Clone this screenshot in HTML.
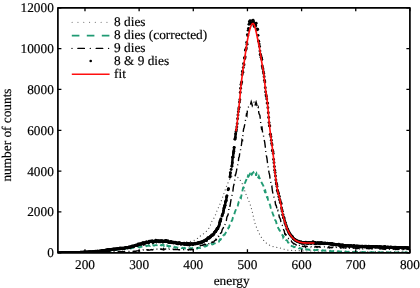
<!DOCTYPE html>
<html><head><meta charset="utf-8"><style>
html,body{margin:0;padding:0;background:#fff;}
body{width:420px;height:288px;overflow:hidden;}
svg{display:block;text-rendering:geometricPrecision;will-change:transform;font-family:"Liberation Serif",serif;font-size:13.3px;}
</style></head><body>
<svg width="420" height="288" viewBox="0 0 420 288">
<defs><clipPath id="c"><rect x="57.90" y="7.80" width="352.00" height="245.00"/></clipPath></defs>
<g clip-path="url(#c)">
<path d="M57.90,252.19 L58.44,252.19 L58.98,252.19 L59.52,252.18 L60.07,252.18 L60.61,252.18 L61.15,252.18 L61.69,252.17 L62.23,252.17 L62.77,252.16 L63.32,252.15 L63.86,252.15 L64.40,252.14 L64.94,252.13 L65.48,252.12 L66.02,252.11 L66.56,252.10 L67.11,252.09 L67.65,252.08 L68.19,252.07 L68.73,252.06 L69.27,252.04 L69.81,252.03 L70.36,252.02 L70.90,252.00 L71.44,251.99 L71.98,251.97 L72.52,251.96 L73.06,251.94 L73.60,251.92 L74.15,251.90 L74.69,251.89 L75.23,251.87 L75.77,251.85 L76.31,251.83 L76.85,251.81 L77.40,251.79 L77.94,251.77 L78.48,251.74 L79.02,251.72 L79.56,251.70 L80.10,251.68 L80.64,251.65 L81.19,251.63 L81.73,251.60 L82.27,251.58 L82.81,251.55 L83.35,251.53 L83.89,251.50 L84.44,251.48 L84.98,251.45 L85.52,251.42 L86.06,251.39 L86.60,251.37 L87.14,251.34 L87.68,251.31 L88.23,251.28 L88.77,251.25 L89.31,251.22 L89.85,251.19 L90.39,251.16 L90.93,251.13 L91.48,251.10 L92.02,251.07 L92.56,251.04 L93.10,251.00 L93.64,250.97 L94.18,250.94 L94.72,250.91 L95.27,250.87 L95.81,250.84 L96.35,250.80 L96.89,250.77 L97.43,250.74 L97.97,250.70 L98.52,250.67 L99.06,250.63 L99.60,250.60 L100.14,250.56 L100.68,250.53 L101.22,250.49 L101.76,250.45 L102.31,250.42 L102.85,250.38 L103.39,250.34 L103.93,250.31 L104.47,250.27 L105.01,250.23 L105.56,250.20 L106.10,250.16 L106.64,250.12 L107.18,250.08 L107.72,250.05 L108.26,250.01 L108.80,249.97 L109.35,249.93 L109.89,249.89 L110.43,249.85 L110.97,249.82 L111.51,249.78 L112.05,249.74 L112.60,249.70 L113.14,249.66 L113.68,249.61 L114.22,249.56 L114.76,249.51 L115.30,249.46 L115.84,249.41 L116.39,249.36 L116.93,249.30 L117.47,249.24 L118.01,249.18 L118.55,249.12 L119.09,249.05 L119.64,248.99 L120.18,248.92 L120.72,248.85 L121.26,248.78 L121.80,248.71 L122.34,248.64 L122.88,248.57 L123.43,248.49 L123.97,248.42 L124.51,248.34 L125.05,248.26 L125.59,248.18 L126.13,248.10 L126.68,248.02 L127.22,247.94 L127.76,247.86 L128.30,247.77 L128.84,247.69 L129.38,247.61 L129.92,247.52 L130.47,247.44 L131.01,247.35 L131.55,247.26 L132.09,247.18 L132.63,247.09 L133.17,247.01 L133.72,246.92 L134.26,246.83 L134.80,246.75 L135.34,246.66 L135.88,246.57 L136.42,246.49 L136.96,246.40 L137.51,246.32 L138.05,246.23 L138.59,246.15 L139.13,246.06 L139.67,245.98 L140.21,245.89 L140.76,245.79 L141.30,245.69 L141.84,245.59 L142.38,245.49 L142.92,245.39 L143.46,245.28 L144.00,245.17 L144.55,245.06 L145.09,244.95 L145.63,244.84 L146.17,244.73 L146.71,244.61 L147.25,244.50 L147.80,244.40 L148.34,244.29 L148.88,244.18 L149.42,244.08 L149.96,243.98 L150.50,243.88 L151.04,243.79 L151.59,243.70 L152.13,243.61 L152.67,243.53 L153.21,243.45 L153.75,243.38 L154.29,243.32 L154.84,243.26 L155.38,243.20 L155.92,243.15 L156.46,243.10 L157.00,243.06 L157.54,243.01 L158.08,242.96 L158.63,242.91 L159.17,242.86 L159.71,242.81 L160.25,242.77 L160.79,242.72 L161.33,242.68 L161.88,242.64 L162.42,242.59 L162.96,242.55 L163.50,242.51 L164.04,242.48 L164.58,242.44 L165.12,242.41 L165.67,242.38 L166.21,242.35 L166.75,242.32 L167.29,242.29 L167.83,242.27 L168.37,242.25 L168.92,242.23 L169.46,242.22 L170.00,242.20 L170.54,242.19 L171.08,242.19 L171.62,242.18 L172.16,242.19 L172.71,242.20 L173.25,242.21 L173.79,242.23 L174.33,242.26 L174.87,242.29 L175.41,242.33 L175.96,242.36 L176.50,242.40 L177.04,242.44 L177.58,242.48 L178.12,242.51 L178.66,242.54 L179.20,242.57 L179.75,242.59 L180.29,242.61 L180.83,242.62 L181.37,242.62 L181.91,242.61 L182.45,242.59 L183.00,242.55 L183.54,242.49 L184.08,242.40 L184.62,242.29 L185.16,242.18 L185.70,242.06 L186.24,241.94 L186.79,241.82 L187.33,241.72 L187.87,241.63 L188.41,241.56 L188.95,241.50 L189.49,241.44 L190.04,241.38 L190.58,241.30 L191.12,241.20 L191.66,241.08 L192.20,240.94 L192.74,240.79 L193.28,240.63 L193.83,240.46 L194.37,240.27 L194.91,240.04 L195.45,239.79 L195.99,239.50 L196.53,239.17 L197.08,238.76 L197.62,238.32 L198.16,237.87 L198.70,237.44 L199.24,237.00 L199.78,236.53 L200.32,236.07 L200.87,235.61 L201.41,235.19 L201.95,234.82 L202.49,234.47 L203.03,234.12 L203.57,233.75 L204.12,233.40 L204.66,233.05 L205.20,232.60 L205.74,232.02 L206.28,231.37 L206.82,230.68 L207.36,229.97 L207.91,229.31 L208.45,228.71 L208.99,228.07 L209.53,227.29 L210.07,226.18 L210.61,224.61 L211.16,222.99 L211.70,221.71 L212.24,220.77 L212.78,219.97 L213.32,219.17 L213.86,218.27 L214.40,217.26 L214.95,216.13 L215.49,214.79 L216.03,213.36 L216.57,211.91 L217.11,210.52 L217.65,209.24 L218.20,208.05 L218.74,206.90 L219.28,205.73 L219.82,204.51 L220.36,203.18 L220.90,201.76 L221.44,200.35 L221.99,198.94 L222.53,197.54 L223.07,196.11 L223.61,194.51 L224.15,192.81 L224.69,191.15 L225.24,189.64 L225.78,188.20 L226.32,186.81 L226.86,185.46 L227.40,184.17 L227.94,182.93 L228.48,181.75 L229.03,180.64 L229.57,179.60 L230.11,178.64 L230.65,177.77 L231.19,176.98 L231.73,176.28 L232.28,175.68 L232.82,175.19 L233.36,174.87 L233.90,174.78 L234.44,174.87 L234.98,175.11 L235.52,175.45 L236.07,175.87 L236.61,176.34 L237.15,176.84 L237.69,177.33 L238.23,177.79 L238.77,178.35 L239.32,179.01 L239.86,179.78 L240.40,180.56 L240.94,181.22 L241.48,182.00 L242.02,183.08 L242.56,184.34 L243.11,185.69 L243.65,187.13 L244.19,188.81 L244.73,190.65 L245.27,192.42 L245.81,193.92 L246.36,195.20 L246.90,196.38 L247.44,197.56 L247.98,198.85 L248.52,200.22 L249.06,201.57 L249.60,202.97 L250.15,204.45 L250.69,206.08 L251.23,207.92 L251.77,209.91 L252.31,211.95 L252.85,214.19 L253.40,216.70 L253.94,219.22 L254.48,221.52 L255.02,223.36 L255.56,224.87 L256.10,226.32 L256.64,227.71 L257.19,229.04 L257.73,230.31 L258.27,231.51 L258.81,232.66 L259.35,233.75 L259.89,234.78 L260.44,235.75 L260.98,236.66 L261.52,237.52 L262.06,238.33 L262.60,239.09 L263.14,239.80 L263.68,240.47 L264.23,241.09 L264.77,241.66 L265.31,242.20 L265.85,242.70 L266.39,243.16 L266.93,243.58 L267.48,243.97 L268.02,244.33 L268.56,244.67 L269.10,244.97 L269.64,245.25 L270.18,245.50 L270.72,245.73 L271.27,245.95 L271.81,246.14 L272.35,246.32 L272.89,246.48 L273.43,246.63 L273.97,246.76 L274.52,246.89 L275.06,247.00 L275.60,247.11 L276.14,247.21 L276.68,247.30 L277.22,247.39 L277.76,247.50 L278.31,247.61 L278.85,247.74 L279.39,247.87 L279.93,248.02 L280.47,248.16 L281.01,248.32 L281.56,248.48 L282.10,248.64 L282.64,248.80 L283.18,248.96 L283.72,249.12 L284.26,249.28 L284.80,249.43 L285.35,249.58 L285.89,249.72 L286.43,249.85 L286.97,249.98 L287.51,250.09 L288.05,250.18 L288.60,250.27 L289.14,250.33 L289.68,250.38 L290.22,250.41 L290.76,250.44 L291.30,250.46 L291.84,250.48 L292.39,250.51 L292.93,250.53 L293.47,250.55 L294.01,250.56 L294.55,250.58 L295.09,250.60 L295.64,250.61 L296.18,250.63 L296.72,250.64 L297.26,250.66 L297.80,250.67 L298.34,250.68 L298.88,250.70 L299.43,250.71 L299.97,250.72 L300.51,250.73 L301.05,250.74 L301.59,250.75 L302.13,250.76 L302.68,250.77 L303.22,250.78 L303.76,250.79 L304.30,250.80 L304.84,250.81 L305.38,250.81 L305.92,250.82 L306.47,250.83 L307.01,250.84 L307.55,250.85 L308.09,250.86 L308.63,250.87 L309.17,250.88 L309.72,250.89 L310.26,250.91 L310.80,250.92 L311.34,250.93 L311.88,250.94 L312.42,250.95 L312.96,250.96 L313.51,250.97 L314.05,250.98 L314.59,250.99 L315.13,251.01 L315.67,251.02 L316.21,251.03 L316.76,251.04 L317.30,251.05 L317.84,251.06 L318.38,251.07 L318.92,251.08 L319.46,251.09 L320.00,251.10 L320.55,251.11 L321.09,251.12 L321.63,251.13 L322.17,251.14 L322.71,251.15 L323.25,251.16 L323.80,251.17 L324.34,251.19 L324.88,251.20 L325.42,251.21 L325.96,251.22 L326.50,251.23 L327.04,251.24 L327.59,251.25 L328.13,251.26 L328.67,251.27 L329.21,251.27 L329.75,251.28 L330.29,251.29 L330.84,251.30 L331.38,251.31 L331.92,251.32 L332.46,251.33 L333.00,251.34 L333.54,251.35 L334.08,251.36 L334.63,251.37 L335.17,251.38 L335.71,251.39 L336.25,251.40 L336.79,251.41 L337.33,251.41 L337.88,251.42 L338.42,251.43 L338.96,251.44 L339.50,251.45 L340.04,251.46 L340.58,251.47 L341.12,251.47 L341.67,251.48 L342.21,251.49 L342.75,251.50 L343.29,251.51 L343.83,251.51 L344.37,251.52 L344.92,251.53 L345.46,251.54 L346.00,251.55 L346.54,251.55 L347.08,251.56 L347.62,251.57 L348.16,251.58 L348.71,251.58 L349.25,251.59 L349.79,251.60 L350.33,251.60 L350.87,251.60 L351.41,251.60 L351.96,251.60 L352.50,251.60 L353.04,251.60 L353.58,251.60 L354.12,251.60 L354.66,251.60 L355.20,251.60 L355.75,251.60 L356.29,251.60 L356.83,251.60 L357.37,251.60 L357.91,251.60 L358.45,251.60 L359.00,251.60 L359.54,251.60 L360.08,251.60 L360.62,251.60 L361.16,251.60 L361.70,251.60 L362.24,251.60 L362.79,251.60 L363.33,251.60 L363.87,251.60 L364.41,251.60 L364.95,251.60 L365.49,251.60 L366.04,251.60 L366.58,251.60 L367.12,251.60 L367.66,251.60 L368.20,251.60 L368.74,251.60 L369.28,251.60 L369.83,251.60 L370.37,251.60 L370.91,251.60 L371.45,251.60 L371.99,251.60 L372.53,251.60 L373.08,251.60 L373.62,251.60 L374.16,251.60 L374.70,251.60 L375.24,251.60 L375.78,251.60 L376.32,251.60 L376.87,251.60 L377.41,251.60 L377.95,251.60 L378.49,251.60 L379.03,251.60 L379.57,251.60 L380.12,251.60 L380.66,251.60 L381.20,251.60 L381.74,251.60 L382.28,251.60 L382.82,251.60 L383.36,251.60 L383.91,251.60 L384.45,251.60 L384.99,251.60 L385.53,251.60 L386.07,251.60 L386.61,251.60 L387.16,251.60 L387.70,251.60 L388.24,251.60 L388.78,251.60 L389.32,251.60 L389.86,251.60 L390.40,251.60 L390.95,251.60 L391.49,251.60 L392.03,251.60 L392.57,251.60 L393.11,251.60 L393.65,251.60 L394.20,251.60 L394.74,251.60 L395.28,251.60 L395.82,251.60 L396.36,251.60 L396.90,251.60 L397.44,251.60 L397.99,251.60 L398.53,251.60 L399.07,251.60 L399.61,251.60 L400.15,251.60 L400.69,251.60 L401.24,251.60 L401.78,251.60 L402.32,251.60 L402.86,251.60 L403.40,251.60 L403.94,251.60 L404.48,251.60 L405.03,251.60 L405.57,251.60 L406.11,251.60 L406.65,251.60 L407.19,251.60 L407.73,251.60 L408.28,251.60 L408.82,251.60 L409.36,251.60 L409.90,251.60" fill="none" stroke="#5a5a5a" stroke-width="1.25" stroke-dasharray="0.01 3.8" stroke-linecap="round"/>
<path d="M57.90,252.31 L58.44,252.43 L58.98,252.38 L59.52,252.29 L60.07,252.38 L60.61,252.34 L61.15,252.42 L61.69,252.25 L62.23,252.52 L62.77,252.45 L63.32,252.44 L63.86,252.26 L64.40,252.34 L64.94,252.37 L65.48,252.44 L66.02,252.32 L66.56,252.33 L67.11,252.38 L67.65,252.43 L68.19,252.40 L68.73,252.30 L69.27,252.28 L69.81,252.29 L70.36,252.30 L70.90,252.41 L71.44,252.27 L71.98,252.34 L72.52,252.25 L73.06,252.21 L73.60,252.28 L74.15,252.30 L74.69,252.14 L75.23,252.17 L75.77,252.24 L76.31,252.42 L76.85,252.17 L77.40,252.11 L77.94,252.05 L78.48,252.19 L79.02,252.18 L79.56,252.15 L80.10,252.03 L80.64,252.19 L81.19,252.08 L81.73,252.14 L82.27,252.02 L82.81,252.17 L83.35,251.99 L83.89,252.05 L84.44,252.02 L84.98,251.94 L85.52,251.87 L86.06,252.11 L86.60,251.85 L87.14,251.87 L87.68,251.93 L88.23,251.75 L88.77,251.84 L89.31,251.71 L89.85,251.88 L90.39,251.88 L90.93,251.65 L91.48,251.52 L92.02,251.65 L92.56,251.60 L93.10,251.71 L93.64,251.78 L94.18,251.63 L94.72,251.41 L95.27,251.75 L95.81,251.57 L96.35,251.70 L96.89,251.43 L97.43,251.31 L97.97,251.53 L98.52,251.39 L99.06,251.14 L99.60,251.28 L100.14,251.39 L100.68,251.36 L101.22,251.42 L101.76,251.02 L102.31,251.18 L102.85,250.90 L103.39,250.89 L103.93,251.05 L104.47,250.99 L105.01,250.77 L105.56,250.82 L106.10,250.76 L106.64,250.99 L107.18,250.59 L107.72,250.80 L108.26,250.96 L108.80,250.66 L109.35,250.46 L109.89,250.15 L110.43,250.47 L110.97,250.56 L111.51,249.96 L112.05,250.21 L112.60,250.21 L113.14,250.28 L113.68,250.21 L114.22,249.73 L114.76,249.96 L115.30,249.94 L115.84,249.87 L116.39,249.43 L116.93,249.75 L117.47,249.46 L118.01,249.46 L118.55,249.40 L119.09,249.53 L119.64,249.18 L120.18,248.94 L120.72,249.18 L121.26,249.29 L121.80,249.30 L122.34,248.94 L122.88,248.97 L123.43,248.88 L123.97,248.80 L124.51,249.04 L125.05,248.52 L125.59,248.58 L126.13,248.58 L126.68,248.46 L127.22,248.26 L127.76,248.38 L128.30,248.52 L128.84,248.03 L129.38,248.32 L129.92,248.32 L130.47,248.45 L131.01,248.05 L131.55,248.22 L132.09,248.05 L132.63,247.78 L133.17,247.81 L133.72,247.53 L134.26,247.63 L134.80,247.73 L135.34,247.65 L135.88,247.63 L136.42,247.30 L136.96,247.38 L137.51,247.42 L138.05,247.06 L138.59,247.17 L139.13,247.23 L139.67,247.41 L140.21,246.87 L140.76,246.84 L141.30,246.80 L141.84,246.84 L142.38,246.85 L142.92,246.61 L143.46,246.41 L144.00,246.41 L144.55,246.32 L145.09,246.32 L145.63,246.03 L146.17,245.97 L146.71,246.15 L147.25,245.68 L147.80,245.60 L148.34,245.53 L148.88,245.73 L149.42,245.69 L149.96,245.89 L150.50,245.32 L151.04,246.04 L151.59,245.51 L152.13,245.44 L152.67,245.06 L153.21,245.25 L153.75,245.47 L154.29,245.56 L154.84,245.34 L155.38,245.09 L155.92,245.09 L156.46,245.15 L157.00,245.29 L157.54,245.16 L158.08,244.83 L158.63,245.42 L159.17,245.11 L159.71,244.68 L160.25,244.98 L160.79,245.27 L161.33,244.97 L161.88,245.38 L162.42,245.18 L162.96,244.77 L163.50,244.70 L164.04,245.75 L164.58,245.16 L165.12,244.90 L165.67,245.67 L166.21,245.55 L166.75,245.32 L167.29,245.95 L167.83,245.79 L168.37,246.00 L168.92,246.57 L169.46,246.07 L170.00,246.29 L170.54,246.09 L171.08,245.89 L171.62,246.33 L172.16,246.68 L172.71,246.57 L173.25,246.72 L173.79,246.61 L174.33,247.29 L174.87,247.30 L175.41,247.59 L175.96,247.04 L176.50,247.27 L177.04,247.49 L177.58,247.58 L178.12,247.62 L178.66,247.77 L179.20,247.71 L179.75,247.82 L180.29,247.48 L180.83,247.79 L181.37,248.12 L181.91,248.13 L182.45,247.81 L183.00,248.03 L183.54,248.12 L184.08,248.07 L184.62,247.93 L185.16,248.55 L185.70,248.47 L186.24,248.70 L186.79,248.25 L187.33,248.45 L187.87,248.53 L188.41,248.57 L188.95,248.28 L189.49,248.47 L190.04,248.56 L190.58,248.20 L191.12,248.69 L191.66,248.75 L192.20,247.95 L192.74,248.57 L193.28,248.61 L193.83,248.65 L194.37,248.53 L194.91,248.31 L195.45,248.28 L195.99,248.27 L196.53,248.38 L197.08,248.57 L197.62,248.12 L198.16,247.78 L198.70,247.80 L199.24,248.01 L199.78,247.73 L200.32,247.93 L200.87,247.78 L201.41,247.97 L201.95,247.66 L202.49,247.43 L203.03,247.33 L203.57,246.91 L204.12,246.40 L204.66,246.29 L205.20,246.43 L205.74,246.27 L206.28,245.99 L206.82,245.82 L207.36,245.30 L207.91,244.96 L208.45,244.82 L208.99,244.65 L209.53,244.53 L210.07,244.53 L210.61,244.64 L211.16,243.85 L211.70,243.97 L212.24,244.45 L212.78,244.35 L213.32,244.15 L213.86,243.85 L214.40,243.35 L214.95,243.27 L215.49,243.08 L216.03,242.87 L216.57,242.60 L217.11,242.37 L217.65,242.05 L218.20,241.79 L218.74,241.85 L219.28,240.77 L219.82,239.54 L220.36,239.80 L220.90,239.15 L221.44,237.80 L221.99,237.43 L222.53,236.99 L223.07,235.59 L223.61,235.39 L224.15,234.72 L224.69,234.63 L225.24,233.47 L225.78,232.73 L226.32,231.68 L226.86,230.57 L227.40,229.57 L227.94,228.98 L228.48,227.62 L229.03,227.42 L229.57,225.35 L230.11,224.14 L230.65,223.47 L231.19,222.41 L231.73,220.69 L232.28,220.02 L232.82,217.76 L233.36,216.43 L233.90,215.83 L234.44,213.87 L234.98,211.86 L235.52,210.49 L236.07,209.12 L236.61,208.48 L237.15,207.25 L237.69,206.01 L238.23,204.08 L238.77,201.56 L239.32,200.87 L239.86,199.26 L240.40,197.77 L240.94,198.12 L241.48,195.11 L242.02,193.32 L242.56,190.09 L243.11,187.82 L243.65,187.85 L244.19,185.47 L244.73,183.24 L245.27,182.40 L245.81,180.98 L246.36,179.75 L246.90,177.42 L247.44,178.25 L247.98,175.94 L248.52,176.45 L249.06,175.54 L249.60,174.52 L250.15,176.09 L250.69,175.73 L251.23,174.04 L251.77,174.71 L252.31,173.87 L252.85,172.87 L253.40,172.38 L253.94,173.65 L254.48,173.08 L255.02,172.58 L255.56,172.37 L256.10,175.85 L256.64,173.55 L257.19,174.52 L257.73,176.70 L258.27,177.44 L258.81,176.30 L259.35,177.78 L259.89,178.35 L260.44,178.97 L260.98,181.37 L261.52,182.32 L262.06,183.46 L262.60,184.54 L263.14,185.30 L263.68,186.85 L264.23,189.51 L264.77,191.37 L265.31,190.75 L265.85,193.41 L266.39,194.84 L266.93,197.27 L267.48,197.19 L268.02,199.76 L268.56,201.04 L269.10,203.19 L269.64,204.14 L270.18,205.26 L270.72,207.82 L271.27,208.90 L271.81,209.88 L272.35,212.23 L272.89,213.83 L273.43,215.20 L273.97,217.17 L274.52,217.57 L275.06,220.04 L275.60,220.49 L276.14,221.84 L276.68,224.37 L277.22,225.05 L277.76,226.62 L278.31,228.20 L278.85,229.00 L279.39,230.11 L279.93,230.77 L280.47,231.69 L281.01,233.63 L281.56,234.25 L282.10,234.73 L282.64,235.27 L283.18,237.49 L283.72,236.69 L284.26,237.91 L284.80,237.87 L285.35,239.19 L285.89,239.89 L286.43,240.12 L286.97,240.26 L287.51,241.20 L288.05,242.60 L288.60,242.86 L289.14,244.40 L289.68,244.67 L290.22,245.13 L290.76,245.68 L291.30,245.85 L291.84,246.07 L292.39,246.24 L292.93,246.34 L293.47,246.63 L294.01,247.11 L294.55,246.98 L295.09,246.88 L295.64,247.06 L296.18,247.41 L296.72,247.46 L297.26,247.56 L297.80,247.61 L298.34,247.69 L298.88,248.26 L299.43,248.38 L299.97,248.14 L300.51,248.24 L301.05,248.36 L301.59,249.25 L302.13,248.92 L302.68,249.61 L303.22,248.92 L303.76,249.13 L304.30,249.21 L304.84,249.32 L305.38,249.12 L305.92,249.47 L306.47,249.29 L307.01,249.43 L307.55,249.51 L308.09,249.54 L308.63,249.64 L309.17,249.89 L309.72,249.61 L310.26,249.65 L310.80,249.83 L311.34,249.71 L311.88,249.72 L312.42,250.12 L312.96,249.95 L313.51,250.03 L314.05,250.14 L314.59,249.96 L315.13,250.18 L315.67,250.14 L316.21,250.06 L316.76,250.07 L317.30,250.11 L317.84,249.83 L318.38,250.31 L318.92,250.22 L319.46,250.48 L320.00,250.25 L320.55,250.17 L321.09,250.20 L321.63,250.52 L322.17,250.50 L322.71,250.30 L323.25,250.54 L323.80,250.41 L324.34,250.73 L324.88,250.42 L325.42,250.51 L325.96,250.63 L326.50,250.84 L327.04,250.79 L327.59,250.78 L328.13,250.79 L328.67,250.88 L329.21,250.93 L329.75,250.91 L330.29,250.78 L330.84,251.27 L331.38,251.22 L331.92,251.27 L332.46,251.19 L333.00,251.36 L333.54,251.10 L334.08,251.19 L334.63,251.27 L335.17,251.35 L335.71,251.28 L336.25,251.31 L336.79,251.32 L337.33,251.48 L337.88,251.34 L338.42,251.62 L338.96,251.33 L339.50,251.85 L340.04,251.60 L340.58,251.69 L341.12,251.50 L341.67,251.77 L342.21,251.44 L342.75,251.82 L343.29,251.47 L343.83,251.66 L344.37,251.72 L344.92,251.70 L345.46,251.55 L346.00,251.70 L346.54,252.03 L347.08,251.71 L347.62,251.82 L348.16,252.01 L348.71,251.80 L349.25,252.00 L349.79,251.88 L350.33,251.88 L350.87,251.98 L351.41,251.87 L351.96,252.03 L352.50,251.93 L353.04,252.01 L353.58,251.99 L354.12,251.81 L354.66,251.98 L355.20,252.10 L355.75,252.02 L356.29,252.08 L356.83,252.02 L357.37,252.02 L357.91,252.03 L358.45,252.04 L359.00,252.10 L359.54,252.03 L360.08,251.98 L360.62,252.13 L361.16,252.09 L361.70,252.09 L362.24,252.00 L362.79,252.02 L363.33,252.18 L363.87,252.12 L364.41,252.25 L364.95,252.21 L365.49,252.14 L366.04,252.10 L366.58,252.08 L367.12,252.19 L367.66,252.27 L368.20,252.14 L368.74,252.19 L369.28,252.15 L369.83,252.18 L370.37,252.14 L370.91,252.15 L371.45,252.14 L371.99,252.25 L372.53,252.14 L373.08,252.26 L373.62,252.22 L374.16,252.10 L374.70,252.22 L375.24,252.33 L375.78,252.14 L376.32,252.19 L376.87,252.18 L377.41,252.26 L377.95,252.25 L378.49,252.30 L379.03,252.34 L379.57,252.19 L380.12,252.33 L380.66,252.34 L381.20,252.34 L381.74,252.19 L382.28,252.26 L382.82,252.36 L383.36,252.34 L383.91,252.31 L384.45,252.29 L384.99,252.46 L385.53,252.30 L386.07,252.38 L386.61,252.42 L387.16,252.40 L387.70,252.33 L388.24,252.27 L388.78,252.38 L389.32,252.36 L389.86,252.45 L390.40,252.38 L390.95,252.36 L391.49,252.51 L392.03,252.45 L392.57,252.38 L393.11,252.54 L393.65,252.46 L394.20,252.41 L394.74,252.55 L395.28,252.48 L395.82,252.46 L396.36,252.41 L396.90,252.54 L397.44,252.41 L397.99,252.46 L398.53,252.42 L399.07,252.43 L399.61,252.48 L400.15,252.47 L400.69,252.60 L401.24,252.58 L401.78,252.57 L402.32,252.54 L402.86,252.48 L403.40,252.63 L403.94,252.56 L404.48,252.61 L405.03,252.63 L405.57,252.48 L406.11,252.56 L406.65,252.49 L407.19,252.52 L407.73,252.62 L408.28,252.67 L408.82,252.49 L409.36,252.61 L409.90,252.65" fill="none" stroke="#229b74" stroke-width="1.9" stroke-dasharray="5.2 3.2"/>
<path d="M57.90,252.02 L58.44,252.23 L58.98,252.18 L59.52,252.14 L60.07,252.26 L60.61,252.17 L61.15,252.17 L61.69,252.34 L62.23,252.06 L62.77,252.10 L63.32,252.22 L63.86,252.17 L64.40,252.09 L64.94,252.17 L65.48,252.17 L66.02,252.29 L66.56,252.07 L67.11,252.12 L67.65,252.10 L68.19,252.28 L68.73,251.94 L69.27,252.10 L69.81,252.15 L70.36,251.89 L70.90,252.11 L71.44,252.25 L71.98,252.14 L72.52,252.34 L73.06,251.97 L73.60,252.13 L74.15,252.16 L74.69,251.95 L75.23,252.25 L75.77,252.00 L76.31,252.29 L76.85,252.13 L77.40,252.18 L77.94,251.88 L78.48,251.84 L79.02,252.07 L79.56,251.94 L80.10,252.05 L80.64,251.96 L81.19,252.10 L81.73,252.21 L82.27,252.21 L82.81,251.96 L83.35,251.74 L83.89,251.96 L84.44,252.05 L84.98,251.76 L85.52,251.95 L86.06,251.96 L86.60,251.94 L87.14,251.98 L87.68,251.99 L88.23,252.12 L88.77,251.89 L89.31,251.95 L89.85,251.79 L90.39,251.97 L90.93,252.15 L91.48,251.93 L92.02,251.71 L92.56,251.95 L93.10,252.01 L93.64,252.04 L94.18,252.02 L94.72,251.92 L95.27,252.02 L95.81,251.68 L96.35,251.90 L96.89,251.84 L97.43,251.67 L97.97,251.65 L98.52,251.86 L99.06,251.79 L99.60,251.73 L100.14,251.84 L100.68,252.04 L101.22,251.72 L101.76,251.68 L102.31,251.74 L102.85,251.90 L103.39,251.80 L103.93,251.85 L104.47,251.80 L105.01,251.59 L105.56,251.55 L106.10,251.66 L106.64,251.67 L107.18,251.64 L107.72,251.73 L108.26,251.73 L108.80,251.80 L109.35,251.71 L109.89,251.40 L110.43,251.58 L110.97,251.74 L111.51,251.75 L112.05,251.79 L112.60,251.62 L113.14,251.61 L113.68,251.86 L114.22,251.59 L114.76,251.73 L115.30,251.45 L115.84,251.62 L116.39,251.40 L116.93,251.69 L117.47,251.66 L118.01,251.58 L118.55,251.47 L119.09,251.53 L119.64,251.78 L120.18,251.57 L120.72,251.59 L121.26,251.65 L121.80,251.67 L122.34,251.33 L122.88,251.62 L123.43,251.68 L123.97,251.46 L124.51,251.53 L125.05,251.55 L125.59,251.42 L126.13,251.46 L126.68,251.47 L127.22,251.37 L127.76,251.46 L128.30,251.59 L128.84,251.54 L129.38,251.56 L129.92,251.44 L130.47,251.62 L131.01,251.72 L131.55,251.42 L132.09,251.62 L132.63,251.70 L133.17,251.31 L133.72,251.43 L134.26,251.18 L134.80,251.27 L135.34,251.28 L135.88,251.22 L136.42,251.00 L136.96,250.87 L137.51,250.88 L138.05,250.70 L138.59,250.87 L139.13,250.51 L139.67,250.82 L140.21,250.47 L140.76,250.25 L141.30,250.13 L141.84,249.97 L142.38,250.60 L142.92,250.09 L143.46,249.97 L144.00,249.99 L144.55,250.35 L145.09,250.05 L145.63,249.71 L146.17,250.40 L146.71,249.95 L147.25,249.79 L147.80,250.15 L148.34,249.85 L148.88,250.18 L149.42,250.10 L149.96,250.07 L150.50,249.82 L151.04,249.86 L151.59,249.59 L152.13,249.98 L152.67,249.77 L153.21,249.49 L153.75,249.54 L154.29,249.94 L154.84,249.45 L155.38,249.67 L155.92,249.44 L156.46,249.43 L157.00,249.18 L157.54,249.41 L158.08,249.85 L158.63,249.71 L159.17,249.19 L159.71,249.40 L160.25,249.04 L160.79,249.22 L161.33,249.44 L161.88,248.98 L162.42,249.42 L162.96,249.71 L163.50,248.70 L164.04,249.67 L164.58,249.05 L165.12,248.97 L165.67,249.17 L166.21,249.62 L166.75,248.97 L167.29,249.57 L167.83,249.56 L168.37,249.33 L168.92,249.06 L169.46,249.19 L170.00,249.07 L170.54,249.38 L171.08,249.33 L171.62,249.57 L172.16,249.39 L172.71,249.18 L173.25,249.42 L173.79,249.26 L174.33,249.53 L174.87,249.56 L175.41,249.44 L175.96,249.53 L176.50,249.38 L177.04,249.51 L177.58,249.18 L178.12,249.66 L178.66,249.69 L179.20,249.91 L179.75,249.69 L180.29,249.57 L180.83,249.91 L181.37,249.78 L181.91,249.62 L182.45,249.82 L183.00,249.91 L183.54,249.58 L184.08,249.78 L184.62,249.70 L185.16,249.52 L185.70,249.52 L186.24,249.84 L186.79,249.87 L187.33,249.67 L187.87,249.74 L188.41,250.12 L188.95,249.38 L189.49,249.64 L190.04,249.45 L190.58,249.86 L191.12,249.26 L191.66,249.66 L192.20,249.52 L192.74,249.75 L193.28,249.34 L193.83,249.20 L194.37,248.99 L194.91,248.59 L195.45,248.43 L195.99,247.90 L196.53,248.01 L197.08,247.87 L197.62,247.27 L198.16,246.76 L198.70,246.26 L199.24,246.10 L199.78,246.68 L200.32,245.72 L200.87,245.12 L201.41,245.42 L201.95,245.47 L202.49,245.05 L203.03,245.22 L203.57,244.69 L204.12,244.80 L204.66,244.17 L205.20,244.38 L205.74,244.72 L206.28,244.11 L206.82,243.86 L207.36,244.30 L207.91,244.11 L208.45,244.70 L208.99,243.30 L209.53,243.72 L210.07,244.15 L210.61,243.82 L211.16,242.99 L211.70,242.36 L212.24,242.45 L212.78,241.93 L213.32,242.29 L213.86,242.07 L214.40,240.73 L214.95,240.49 L215.49,240.29 L216.03,239.19 L216.57,239.69 L217.11,238.83 L217.65,237.45 L218.20,236.29 L218.74,236.43 L219.28,234.70 L219.82,235.02 L220.36,233.56 L220.90,232.85 L221.44,232.64 L221.99,230.46 L222.53,228.91 L223.07,228.41 L223.61,227.14 L224.15,224.89 L224.69,225.34 L225.24,224.12 L225.78,222.03 L226.32,220.85 L226.86,217.24 L227.40,216.18 L227.94,215.09 L228.48,212.73 L229.03,207.48 L229.57,207.95 L230.11,205.51 L230.65,201.85 L231.19,198.73 L231.73,196.25 L232.28,194.43 L232.82,191.74 L233.36,186.94 L233.90,184.61 L234.44,183.33 L234.98,177.29 L235.52,174.79 L236.07,173.07 L236.61,170.20 L237.15,166.69 L237.69,164.84 L238.23,162.69 L238.77,157.63 L239.32,156.86 L239.86,151.53 L240.40,151.09 L240.94,146.89 L241.48,144.65 L242.02,139.66 L242.56,140.23 L243.11,132.38 L243.65,128.71 L244.19,127.20 L244.73,124.45 L245.27,121.09 L245.81,118.54 L246.36,114.91 L246.90,115.83 L247.44,109.65 L247.98,108.25 L248.52,106.84 L249.06,105.89 L249.60,105.65 L250.15,105.94 L250.69,103.70 L251.23,101.67 L251.77,103.39 L252.31,105.77 L252.85,104.83 L253.40,102.12 L253.94,102.12 L254.48,104.82 L255.02,105.75 L255.56,103.50 L256.10,102.01 L256.64,103.87 L257.19,106.81 L257.73,108.78 L258.27,107.57 L258.81,112.97 L259.35,114.48 L259.89,115.19 L260.44,120.63 L260.98,125.25 L261.52,128.55 L262.06,127.75 L262.60,132.50 L263.14,134.74 L263.68,136.53 L264.23,139.91 L264.77,142.69 L265.31,146.88 L265.85,153.56 L266.39,155.72 L266.93,158.23 L267.48,162.64 L268.02,165.95 L268.56,170.10 L269.10,172.88 L269.64,175.04 L270.18,179.63 L270.72,181.62 L271.27,185.72 L271.81,185.84 L272.35,190.48 L272.89,193.26 L273.43,194.66 L273.97,197.22 L274.52,200.18 L275.06,201.17 L275.60,204.97 L276.14,205.19 L276.68,207.47 L277.22,210.93 L277.76,210.40 L278.31,213.97 L278.85,214.71 L279.39,217.36 L279.93,218.02 L280.47,219.47 L281.01,222.62 L281.56,224.61 L282.10,225.08 L282.64,225.92 L283.18,228.30 L283.72,230.03 L284.26,230.87 L284.80,234.09 L285.35,233.94 L285.89,235.22 L286.43,235.10 L286.97,236.35 L287.51,237.19 L288.05,237.40 L288.60,238.55 L289.14,238.43 L289.68,239.41 L290.22,239.96 L290.76,240.85 L291.30,240.85 L291.84,241.99 L292.39,242.35 L292.93,242.90 L293.47,243.80 L294.01,243.56 L294.55,243.92 L295.09,244.19 L295.64,244.68 L296.18,244.90 L296.72,244.66 L297.26,244.34 L297.80,245.57 L298.34,245.24 L298.88,245.69 L299.43,245.41 L299.97,245.64 L300.51,245.53 L301.05,246.91 L301.59,246.25 L302.13,246.45 L302.68,246.21 L303.22,246.47 L303.76,246.49 L304.30,246.09 L304.84,245.73 L305.38,247.31 L305.92,246.52 L306.47,246.35 L307.01,246.48 L307.55,246.62 L308.09,246.96 L308.63,246.85 L309.17,246.34 L309.72,246.25 L310.26,246.58 L310.80,246.90 L311.34,246.63 L311.88,246.75 L312.42,246.53 L312.96,246.69 L313.51,246.94 L314.05,246.71 L314.59,247.16 L315.13,246.55 L315.67,246.46 L316.21,247.22 L316.76,246.74 L317.30,247.21 L317.84,246.58 L318.38,246.66 L318.92,247.03 L319.46,246.67 L320.00,247.13 L320.55,247.22 L321.09,247.22 L321.63,247.11 L322.17,247.18 L322.71,247.06 L323.25,247.31 L323.80,246.91 L324.34,246.86 L324.88,247.34 L325.42,247.64 L325.96,247.01 L326.50,246.91 L327.04,247.32 L327.59,247.68 L328.13,247.24 L328.67,246.88 L329.21,247.92 L329.75,247.24 L330.29,247.50 L330.84,247.68 L331.38,247.30 L331.92,247.85 L332.46,247.40 L333.00,247.12 L333.54,247.48 L334.08,247.81 L334.63,248.09 L335.17,247.97 L335.71,248.15 L336.25,247.17 L336.79,247.73 L337.33,247.98 L337.88,248.07 L338.42,248.02 L338.96,247.83 L339.50,248.13 L340.04,247.29 L340.58,248.01 L341.12,248.04 L341.67,247.74 L342.21,247.44 L342.75,247.49 L343.29,248.03 L343.83,247.83 L344.37,247.88 L344.92,247.79 L345.46,247.89 L346.00,248.24 L346.54,248.35 L347.08,247.96 L347.62,248.36 L348.16,247.66 L348.71,248.05 L349.25,248.36 L349.79,248.18 L350.33,248.25 L350.87,248.16 L351.41,247.88 L351.96,248.55 L352.50,248.69 L353.04,248.09 L353.58,248.25 L354.12,248.17 L354.66,248.10 L355.20,248.29 L355.75,248.03 L356.29,248.51 L356.83,248.26 L357.37,248.52 L357.91,248.61 L358.45,248.15 L359.00,248.18 L359.54,248.87 L360.08,248.66 L360.62,248.29 L361.16,248.09 L361.70,248.57 L362.24,248.45 L362.79,248.80 L363.33,247.75 L363.87,248.31 L364.41,248.21 L364.95,248.29 L365.49,248.23 L366.04,248.33 L366.58,248.59 L367.12,248.31 L367.66,248.50 L368.20,248.19 L368.74,248.74 L369.28,248.70 L369.83,248.40 L370.37,248.24 L370.91,248.56 L371.45,248.79 L371.99,248.65 L372.53,248.76 L373.08,248.14 L373.62,248.42 L374.16,248.33 L374.70,248.60 L375.24,248.83 L375.78,248.40 L376.32,248.28 L376.87,248.58 L377.41,248.74 L377.95,248.47 L378.49,248.86 L379.03,248.58 L379.57,248.97 L380.12,249.05 L380.66,248.67 L381.20,248.74 L381.74,248.36 L382.28,248.93 L382.82,248.86 L383.36,249.17 L383.91,249.37 L384.45,249.36 L384.99,248.81 L385.53,249.24 L386.07,248.67 L386.61,248.61 L387.16,249.05 L387.70,248.58 L388.24,248.95 L388.78,248.74 L389.32,249.09 L389.86,248.81 L390.40,249.30 L390.95,248.93 L391.49,249.21 L392.03,249.14 L392.57,248.97 L393.11,249.09 L393.65,249.17 L394.20,248.98 L394.74,248.98 L395.28,249.53 L395.82,249.07 L396.36,249.05 L396.90,249.41 L397.44,249.15 L397.99,249.58 L398.53,248.92 L399.07,249.34 L399.61,249.31 L400.15,249.02 L400.69,249.35 L401.24,249.18 L401.78,249.59 L402.32,249.49 L402.86,249.69 L403.40,249.42 L403.94,249.14 L404.48,249.34 L405.03,249.20 L405.57,249.66 L406.11,249.64 L406.65,249.55 L407.19,249.31 L407.73,249.37 L408.28,249.47 L408.82,249.33 L409.36,249.52 L409.90,249.50" fill="none" stroke="#000" stroke-width="1.4" stroke-dasharray="8 3.3 1 3.3"/>
<g fill="#000"><circle cx="57.90" cy="252.87" r="1.45"/><circle cx="58.28" cy="252.89" r="1.45"/><circle cx="58.66" cy="252.89" r="1.45"/><circle cx="59.04" cy="252.91" r="1.45"/><circle cx="59.42" cy="252.88" r="1.45"/><circle cx="59.80" cy="252.87" r="1.45"/><circle cx="60.17" cy="252.86" r="1.45"/><circle cx="60.55" cy="252.87" r="1.45"/><circle cx="60.93" cy="252.85" r="1.45"/><circle cx="61.31" cy="252.85" r="1.45"/><circle cx="61.69" cy="252.85" r="1.45"/><circle cx="62.07" cy="252.81" r="1.45"/><circle cx="62.45" cy="252.80" r="1.45"/><circle cx="62.83" cy="252.78" r="1.45"/><circle cx="63.21" cy="252.80" r="1.45"/><circle cx="63.59" cy="252.80" r="1.45"/><circle cx="63.97" cy="252.80" r="1.45"/><circle cx="64.34" cy="252.80" r="1.45"/><circle cx="64.72" cy="252.75" r="1.45"/><circle cx="65.10" cy="252.79" r="1.45"/><circle cx="65.48" cy="252.78" r="1.45"/><circle cx="65.86" cy="252.75" r="1.45"/><circle cx="66.24" cy="252.70" r="1.45"/><circle cx="66.62" cy="252.72" r="1.45"/><circle cx="67.00" cy="252.75" r="1.45"/><circle cx="67.38" cy="252.74" r="1.45"/><circle cx="67.76" cy="252.68" r="1.45"/><circle cx="68.14" cy="252.70" r="1.45"/><circle cx="68.51" cy="252.72" r="1.45"/><circle cx="68.89" cy="252.69" r="1.45"/><circle cx="69.27" cy="252.64" r="1.45"/><circle cx="69.65" cy="252.57" r="1.45"/><circle cx="70.03" cy="252.70" r="1.45"/><circle cx="70.41" cy="252.67" r="1.45"/><circle cx="70.79" cy="252.67" r="1.45"/><circle cx="71.17" cy="252.74" r="1.45"/><circle cx="71.55" cy="252.66" r="1.45"/><circle cx="71.93" cy="252.65" r="1.45"/><circle cx="72.30" cy="252.53" r="1.45"/><circle cx="72.68" cy="252.59" r="1.45"/><circle cx="73.06" cy="252.66" r="1.45"/><circle cx="73.44" cy="252.53" r="1.45"/><circle cx="73.82" cy="252.57" r="1.45"/><circle cx="74.20" cy="252.65" r="1.45"/><circle cx="74.58" cy="252.57" r="1.45"/><circle cx="74.96" cy="252.56" r="1.45"/><circle cx="75.34" cy="252.57" r="1.45"/><circle cx="75.72" cy="252.50" r="1.45"/><circle cx="76.10" cy="252.64" r="1.45"/><circle cx="76.47" cy="252.50" r="1.45"/><circle cx="76.85" cy="252.41" r="1.45"/><circle cx="77.23" cy="252.41" r="1.45"/><circle cx="77.61" cy="252.38" r="1.45"/><circle cx="77.99" cy="252.37" r="1.45"/><circle cx="78.37" cy="252.33" r="1.45"/><circle cx="78.75" cy="252.50" r="1.45"/><circle cx="79.13" cy="252.35" r="1.45"/><circle cx="79.51" cy="252.53" r="1.45"/><circle cx="79.89" cy="252.43" r="1.45"/><circle cx="80.27" cy="252.52" r="1.45"/><circle cx="80.64" cy="252.28" r="1.45"/><circle cx="81.02" cy="252.25" r="1.45"/><circle cx="81.40" cy="252.35" r="1.45"/><circle cx="81.78" cy="252.18" r="1.45"/><circle cx="82.16" cy="252.37" r="1.45"/><circle cx="82.54" cy="252.29" r="1.45"/><circle cx="82.92" cy="252.27" r="1.45"/><circle cx="83.30" cy="252.36" r="1.45"/><circle cx="83.68" cy="252.22" r="1.45"/><circle cx="84.06" cy="252.07" r="1.45"/><circle cx="84.44" cy="252.31" r="1.45"/><circle cx="84.81" cy="252.13" r="1.45"/><circle cx="85.19" cy="252.21" r="1.45"/><circle cx="85.57" cy="252.01" r="1.45"/><circle cx="85.95" cy="252.11" r="1.45"/><circle cx="86.33" cy="252.08" r="1.45"/><circle cx="86.71" cy="252.06" r="1.45"/><circle cx="87.09" cy="252.08" r="1.45"/><circle cx="87.47" cy="252.22" r="1.45"/><circle cx="87.85" cy="251.92" r="1.45"/><circle cx="88.23" cy="252.18" r="1.45"/><circle cx="88.61" cy="251.99" r="1.45"/><circle cx="88.98" cy="251.93" r="1.45"/><circle cx="89.36" cy="252.06" r="1.45"/><circle cx="89.74" cy="251.93" r="1.45"/><circle cx="90.12" cy="251.80" r="1.45"/><circle cx="90.50" cy="251.90" r="1.45"/><circle cx="90.88" cy="251.97" r="1.45"/><circle cx="91.26" cy="252.17" r="1.45"/><circle cx="91.64" cy="251.93" r="1.45"/><circle cx="92.02" cy="251.86" r="1.45"/><circle cx="92.40" cy="251.83" r="1.45"/><circle cx="92.78" cy="251.85" r="1.45"/><circle cx="93.15" cy="251.67" r="1.45"/><circle cx="93.53" cy="251.75" r="1.45"/><circle cx="93.91" cy="251.67" r="1.45"/><circle cx="94.29" cy="251.54" r="1.45"/><circle cx="94.67" cy="251.70" r="1.45"/><circle cx="95.05" cy="251.60" r="1.45"/><circle cx="95.43" cy="251.25" r="1.45"/><circle cx="95.81" cy="251.38" r="1.45"/><circle cx="96.19" cy="251.63" r="1.45"/><circle cx="96.57" cy="251.44" r="1.45"/><circle cx="96.94" cy="251.32" r="1.45"/><circle cx="97.32" cy="251.19" r="1.45"/><circle cx="97.70" cy="251.30" r="1.45"/><circle cx="98.08" cy="251.36" r="1.45"/><circle cx="98.46" cy="251.36" r="1.45"/><circle cx="98.84" cy="251.12" r="1.45"/><circle cx="99.22" cy="251.13" r="1.45"/><circle cx="99.60" cy="251.22" r="1.45"/><circle cx="99.98" cy="251.13" r="1.45"/><circle cx="100.36" cy="251.12" r="1.45"/><circle cx="100.74" cy="250.91" r="1.45"/><circle cx="101.11" cy="251.08" r="1.45"/><circle cx="101.49" cy="250.84" r="1.45"/><circle cx="101.87" cy="250.73" r="1.45"/><circle cx="102.25" cy="250.73" r="1.45"/><circle cx="102.63" cy="250.89" r="1.45"/><circle cx="103.01" cy="250.47" r="1.45"/><circle cx="103.39" cy="250.74" r="1.45"/><circle cx="103.77" cy="250.49" r="1.45"/><circle cx="104.15" cy="250.63" r="1.45"/><circle cx="104.53" cy="250.74" r="1.45"/><circle cx="104.91" cy="250.33" r="1.45"/><circle cx="105.28" cy="250.26" r="1.45"/><circle cx="105.66" cy="250.26" r="1.45"/><circle cx="106.04" cy="250.13" r="1.45"/><circle cx="106.42" cy="250.25" r="1.45"/><circle cx="106.80" cy="250.21" r="1.45"/><circle cx="107.18" cy="250.04" r="1.45"/><circle cx="107.56" cy="249.59" r="1.45"/><circle cx="107.94" cy="249.75" r="1.45"/><circle cx="108.32" cy="249.96" r="1.45"/><circle cx="108.70" cy="249.70" r="1.45"/><circle cx="109.08" cy="249.86" r="1.45"/><circle cx="109.45" cy="249.81" r="1.45"/><circle cx="109.83" cy="249.51" r="1.45"/><circle cx="110.21" cy="249.74" r="1.45"/><circle cx="110.59" cy="249.94" r="1.45"/><circle cx="110.97" cy="249.74" r="1.45"/><circle cx="111.35" cy="249.49" r="1.45"/><circle cx="111.73" cy="249.44" r="1.45"/><circle cx="112.11" cy="249.17" r="1.45"/><circle cx="112.49" cy="249.54" r="1.45"/><circle cx="112.87" cy="249.20" r="1.45"/><circle cx="113.25" cy="249.22" r="1.45"/><circle cx="113.62" cy="249.30" r="1.45"/><circle cx="114.00" cy="249.05" r="1.45"/><circle cx="114.38" cy="249.09" r="1.45"/><circle cx="114.76" cy="249.34" r="1.45"/><circle cx="115.14" cy="248.88" r="1.45"/><circle cx="115.52" cy="249.34" r="1.45"/><circle cx="115.90" cy="249.02" r="1.45"/><circle cx="116.28" cy="248.99" r="1.45"/><circle cx="116.66" cy="248.86" r="1.45"/><circle cx="117.04" cy="249.07" r="1.45"/><circle cx="117.42" cy="248.88" r="1.45"/><circle cx="117.79" cy="248.86" r="1.45"/><circle cx="118.17" cy="248.55" r="1.45"/><circle cx="118.55" cy="248.92" r="1.45"/><circle cx="118.93" cy="248.68" r="1.45"/><circle cx="119.31" cy="248.71" r="1.45"/><circle cx="119.69" cy="248.91" r="1.45"/><circle cx="120.07" cy="247.93" r="1.45"/><circle cx="120.45" cy="248.54" r="1.45"/><circle cx="120.83" cy="248.83" r="1.45"/><circle cx="121.21" cy="248.10" r="1.45"/><circle cx="121.58" cy="248.65" r="1.45"/><circle cx="121.96" cy="248.25" r="1.45"/><circle cx="122.34" cy="248.09" r="1.45"/><circle cx="122.72" cy="248.41" r="1.45"/><circle cx="123.10" cy="248.31" r="1.45"/><circle cx="123.48" cy="248.29" r="1.45"/><circle cx="123.86" cy="248.14" r="1.45"/><circle cx="124.24" cy="248.46" r="1.45"/><circle cx="124.62" cy="248.31" r="1.45"/><circle cx="125.00" cy="247.99" r="1.45"/><circle cx="125.38" cy="247.63" r="1.45"/><circle cx="125.75" cy="247.68" r="1.45"/><circle cx="126.13" cy="247.34" r="1.45"/><circle cx="126.51" cy="247.54" r="1.45"/><circle cx="126.89" cy="247.79" r="1.45"/><circle cx="127.27" cy="247.62" r="1.45"/><circle cx="127.65" cy="248.05" r="1.45"/><circle cx="128.03" cy="247.70" r="1.45"/><circle cx="128.41" cy="247.64" r="1.45"/><circle cx="128.79" cy="247.22" r="1.45"/><circle cx="129.17" cy="247.04" r="1.45"/><circle cx="129.55" cy="247.29" r="1.45"/><circle cx="129.92" cy="247.22" r="1.45"/><circle cx="130.30" cy="247.40" r="1.45"/><circle cx="130.68" cy="246.93" r="1.45"/><circle cx="131.06" cy="246.74" r="1.45"/><circle cx="131.44" cy="246.59" r="1.45"/><circle cx="131.82" cy="246.85" r="1.45"/><circle cx="132.20" cy="245.97" r="1.45"/><circle cx="132.58" cy="246.10" r="1.45"/><circle cx="132.96" cy="246.38" r="1.45"/><circle cx="133.34" cy="246.42" r="1.45"/><circle cx="133.72" cy="246.27" r="1.45"/><circle cx="134.09" cy="246.03" r="1.45"/><circle cx="134.47" cy="245.98" r="1.45"/><circle cx="134.85" cy="245.73" r="1.45"/><circle cx="135.23" cy="245.53" r="1.45"/><circle cx="135.61" cy="245.24" r="1.45"/><circle cx="135.99" cy="245.18" r="1.45"/><circle cx="136.37" cy="245.45" r="1.45"/><circle cx="136.75" cy="245.18" r="1.45"/><circle cx="137.13" cy="245.30" r="1.45"/><circle cx="137.51" cy="245.24" r="1.45"/><circle cx="137.89" cy="244.32" r="1.45"/><circle cx="138.26" cy="244.95" r="1.45"/><circle cx="138.64" cy="244.03" r="1.45"/><circle cx="139.02" cy="244.67" r="1.45"/><circle cx="139.40" cy="244.35" r="1.45"/><circle cx="139.78" cy="243.96" r="1.45"/><circle cx="140.16" cy="244.20" r="1.45"/><circle cx="140.54" cy="243.96" r="1.45"/><circle cx="140.92" cy="244.06" r="1.45"/><circle cx="141.30" cy="244.04" r="1.45"/><circle cx="141.68" cy="243.84" r="1.45"/><circle cx="142.06" cy="243.91" r="1.45"/><circle cx="142.43" cy="243.03" r="1.45"/><circle cx="142.81" cy="243.57" r="1.45"/><circle cx="143.19" cy="242.82" r="1.45"/><circle cx="143.57" cy="244.28" r="1.45"/><circle cx="143.95" cy="243.24" r="1.45"/><circle cx="144.33" cy="242.97" r="1.45"/><circle cx="144.71" cy="243.19" r="1.45"/><circle cx="145.09" cy="242.61" r="1.45"/><circle cx="145.47" cy="242.70" r="1.45"/><circle cx="145.85" cy="242.95" r="1.45"/><circle cx="146.22" cy="242.62" r="1.45"/><circle cx="146.60" cy="241.68" r="1.45"/><circle cx="146.98" cy="242.53" r="1.45"/><circle cx="147.36" cy="242.45" r="1.45"/><circle cx="147.74" cy="242.65" r="1.45"/><circle cx="148.12" cy="242.37" r="1.45"/><circle cx="148.50" cy="242.83" r="1.45"/><circle cx="148.88" cy="242.36" r="1.45"/><circle cx="149.26" cy="241.31" r="1.45"/><circle cx="149.64" cy="241.76" r="1.45"/><circle cx="150.02" cy="241.86" r="1.45"/><circle cx="150.39" cy="241.62" r="1.45"/><circle cx="150.77" cy="241.26" r="1.45"/><circle cx="151.15" cy="241.68" r="1.45"/><circle cx="151.53" cy="241.05" r="1.45"/><circle cx="151.91" cy="241.36" r="1.45"/><circle cx="152.29" cy="241.64" r="1.45"/><circle cx="152.67" cy="240.98" r="1.45"/><circle cx="153.05" cy="242.48" r="1.45"/><circle cx="153.43" cy="241.73" r="1.45"/><circle cx="153.81" cy="241.36" r="1.45"/><circle cx="154.19" cy="241.77" r="1.45"/><circle cx="154.56" cy="241.43" r="1.45"/><circle cx="154.94" cy="241.59" r="1.45"/><circle cx="155.32" cy="241.57" r="1.45"/><circle cx="155.70" cy="240.25" r="1.45"/><circle cx="156.08" cy="241.06" r="1.45"/><circle cx="156.46" cy="241.32" r="1.45"/><circle cx="156.84" cy="240.79" r="1.45"/><circle cx="157.22" cy="241.39" r="1.45"/><circle cx="157.60" cy="240.96" r="1.45"/><circle cx="157.98" cy="241.16" r="1.45"/><circle cx="158.36" cy="240.67" r="1.45"/><circle cx="158.73" cy="241.85" r="1.45"/><circle cx="159.11" cy="241.00" r="1.45"/><circle cx="159.49" cy="241.25" r="1.45"/><circle cx="159.87" cy="241.75" r="1.45"/><circle cx="160.25" cy="240.89" r="1.45"/><circle cx="160.63" cy="241.64" r="1.45"/><circle cx="161.01" cy="240.67" r="1.45"/><circle cx="161.39" cy="241.10" r="1.45"/><circle cx="161.77" cy="241.03" r="1.45"/><circle cx="162.15" cy="241.27" r="1.45"/><circle cx="162.53" cy="240.95" r="1.45"/><circle cx="162.90" cy="242.02" r="1.45"/><circle cx="163.28" cy="241.27" r="1.45"/><circle cx="163.66" cy="241.54" r="1.45"/><circle cx="164.04" cy="241.19" r="1.45"/><circle cx="164.42" cy="241.32" r="1.45"/><circle cx="164.80" cy="241.08" r="1.45"/><circle cx="165.18" cy="241.66" r="1.45"/><circle cx="165.56" cy="240.65" r="1.45"/><circle cx="165.94" cy="240.50" r="1.45"/><circle cx="166.32" cy="241.51" r="1.45"/><circle cx="166.70" cy="241.47" r="1.45"/><circle cx="167.07" cy="241.40" r="1.45"/><circle cx="167.45" cy="241.08" r="1.45"/><circle cx="167.83" cy="240.89" r="1.45"/><circle cx="168.21" cy="242.13" r="1.45"/><circle cx="168.59" cy="241.96" r="1.45"/><circle cx="168.97" cy="242.19" r="1.45"/><circle cx="169.35" cy="242.27" r="1.45"/><circle cx="169.73" cy="242.53" r="1.45"/><circle cx="170.11" cy="241.84" r="1.45"/><circle cx="170.49" cy="242.48" r="1.45"/><circle cx="170.86" cy="241.55" r="1.45"/><circle cx="171.24" cy="241.84" r="1.45"/><circle cx="171.62" cy="242.62" r="1.45"/><circle cx="172.00" cy="242.69" r="1.45"/><circle cx="172.38" cy="242.59" r="1.45"/><circle cx="172.76" cy="241.91" r="1.45"/><circle cx="173.14" cy="242.79" r="1.45"/><circle cx="173.52" cy="243.08" r="1.45"/><circle cx="173.90" cy="242.61" r="1.45"/><circle cx="174.28" cy="242.50" r="1.45"/><circle cx="174.66" cy="242.92" r="1.45"/><circle cx="175.03" cy="242.15" r="1.45"/><circle cx="175.41" cy="242.70" r="1.45"/><circle cx="175.79" cy="242.68" r="1.45"/><circle cx="176.17" cy="243.20" r="1.45"/><circle cx="176.55" cy="242.96" r="1.45"/><circle cx="176.93" cy="243.06" r="1.45"/><circle cx="177.31" cy="243.87" r="1.45"/><circle cx="177.69" cy="243.01" r="1.45"/><circle cx="178.07" cy="243.80" r="1.45"/><circle cx="178.45" cy="243.23" r="1.45"/><circle cx="178.83" cy="243.79" r="1.45"/><circle cx="179.20" cy="242.62" r="1.45"/><circle cx="179.58" cy="243.26" r="1.45"/><circle cx="179.96" cy="243.13" r="1.45"/><circle cx="180.34" cy="243.15" r="1.45"/><circle cx="180.72" cy="243.98" r="1.45"/><circle cx="181.10" cy="244.36" r="1.45"/><circle cx="181.48" cy="243.72" r="1.45"/><circle cx="181.86" cy="243.33" r="1.45"/><circle cx="182.24" cy="243.65" r="1.45"/><circle cx="182.62" cy="243.44" r="1.45"/><circle cx="183.00" cy="243.42" r="1.45"/><circle cx="183.37" cy="244.28" r="1.45"/><circle cx="183.75" cy="243.69" r="1.45"/><circle cx="184.13" cy="243.13" r="1.45"/><circle cx="184.51" cy="244.02" r="1.45"/><circle cx="184.89" cy="244.53" r="1.45"/><circle cx="185.27" cy="243.94" r="1.45"/><circle cx="185.65" cy="244.03" r="1.45"/><circle cx="186.03" cy="243.75" r="1.45"/><circle cx="186.41" cy="244.21" r="1.45"/><circle cx="186.79" cy="243.89" r="1.45"/><circle cx="187.17" cy="244.69" r="1.45"/><circle cx="187.54" cy="243.65" r="1.45"/><circle cx="187.92" cy="243.42" r="1.45"/><circle cx="188.30" cy="243.52" r="1.45"/><circle cx="188.68" cy="244.49" r="1.45"/><circle cx="189.06" cy="243.88" r="1.45"/><circle cx="189.44" cy="245.00" r="1.45"/><circle cx="189.82" cy="243.90" r="1.45"/><circle cx="190.20" cy="244.02" r="1.45"/><circle cx="190.58" cy="244.34" r="1.45"/><circle cx="190.96" cy="243.89" r="1.45"/><circle cx="191.34" cy="243.96" r="1.45"/><circle cx="191.71" cy="243.68" r="1.45"/><circle cx="192.09" cy="243.96" r="1.45"/><circle cx="192.47" cy="243.91" r="1.45"/><circle cx="192.85" cy="244.64" r="1.45"/><circle cx="193.23" cy="244.35" r="1.45"/><circle cx="193.61" cy="244.09" r="1.45"/><circle cx="193.99" cy="243.80" r="1.45"/><circle cx="194.37" cy="243.87" r="1.45"/><circle cx="194.75" cy="243.32" r="1.45"/><circle cx="195.13" cy="244.10" r="1.45"/><circle cx="195.50" cy="243.84" r="1.45"/><circle cx="195.88" cy="243.63" r="1.45"/><circle cx="196.26" cy="243.74" r="1.45"/><circle cx="196.64" cy="243.43" r="1.45"/><circle cx="197.02" cy="243.72" r="1.45"/><circle cx="197.40" cy="242.93" r="1.45"/><circle cx="197.78" cy="243.44" r="1.45"/><circle cx="198.16" cy="242.82" r="1.45"/><circle cx="198.54" cy="243.11" r="1.45"/><circle cx="198.92" cy="242.44" r="1.45"/><circle cx="199.30" cy="243.35" r="1.45"/><circle cx="199.67" cy="242.52" r="1.45"/><circle cx="200.05" cy="242.74" r="1.45"/><circle cx="200.43" cy="242.36" r="1.45"/><circle cx="200.81" cy="241.85" r="1.45"/><circle cx="201.19" cy="242.56" r="1.45"/><circle cx="201.57" cy="242.46" r="1.45"/><circle cx="201.95" cy="242.17" r="1.45"/><circle cx="202.33" cy="241.51" r="1.45"/><circle cx="202.71" cy="242.15" r="1.45"/><circle cx="203.09" cy="241.20" r="1.45"/><circle cx="203.47" cy="241.56" r="1.45"/><circle cx="203.84" cy="241.33" r="1.45"/><circle cx="204.22" cy="240.84" r="1.45"/><circle cx="204.60" cy="240.35" r="1.45"/><circle cx="204.98" cy="240.56" r="1.45"/><circle cx="205.36" cy="240.31" r="1.45"/><circle cx="205.74" cy="239.92" r="1.45"/><circle cx="206.12" cy="239.80" r="1.45"/><circle cx="206.50" cy="240.59" r="1.45"/><circle cx="206.88" cy="239.44" r="1.45"/><circle cx="207.26" cy="239.00" r="1.45"/><circle cx="207.64" cy="238.35" r="1.45"/><circle cx="208.01" cy="237.71" r="1.45"/><circle cx="208.39" cy="238.07" r="1.45"/><circle cx="208.77" cy="238.08" r="1.45"/><circle cx="209.15" cy="238.28" r="1.45"/><circle cx="209.53" cy="237.55" r="1.45"/><circle cx="209.91" cy="236.95" r="1.45"/><circle cx="210.29" cy="236.44" r="1.45"/><circle cx="210.67" cy="237.12" r="1.45"/><circle cx="211.05" cy="236.30" r="1.45"/><circle cx="211.43" cy="235.71" r="1.45"/><circle cx="211.81" cy="234.89" r="1.45"/><circle cx="212.18" cy="235.32" r="1.45"/><circle cx="212.56" cy="235.35" r="1.45"/><circle cx="212.94" cy="235.05" r="1.45"/><circle cx="213.32" cy="234.50" r="1.45"/><circle cx="213.70" cy="234.24" r="1.45"/><circle cx="214.08" cy="233.06" r="1.45"/><circle cx="214.46" cy="232.47" r="1.45"/><circle cx="214.84" cy="232.15" r="1.45"/><circle cx="215.22" cy="231.38" r="1.45"/><circle cx="215.60" cy="231.70" r="1.45"/><circle cx="215.98" cy="230.70" r="1.45"/><circle cx="216.35" cy="230.53" r="1.45"/><circle cx="216.73" cy="229.70" r="1.45"/><circle cx="217.11" cy="228.41" r="1.45"/><circle cx="217.49" cy="228.43" r="1.45"/><circle cx="217.87" cy="228.75" r="1.45"/><circle cx="218.25" cy="227.04" r="1.45"/><circle cx="219.01" cy="225.95" r="1.45"/><circle cx="219.39" cy="224.50" r="1.45"/><circle cx="219.77" cy="222.35" r="1.45"/><circle cx="220.14" cy="220.80" r="1.45"/><circle cx="220.52" cy="221.08" r="1.45"/><circle cx="220.90" cy="218.95" r="1.45"/><circle cx="222.04" cy="215.90" r="1.45"/><circle cx="222.42" cy="214.56" r="1.45"/><circle cx="223.18" cy="212.88" r="1.45"/><circle cx="223.56" cy="210.67" r="1.45"/><circle cx="223.94" cy="208.45" r="1.45"/><circle cx="224.31" cy="207.13" r="1.45"/><circle cx="224.69" cy="205.41" r="1.45"/><circle cx="225.07" cy="205.59" r="1.45"/><circle cx="225.45" cy="202.03" r="1.45"/><circle cx="225.83" cy="201.06" r="1.45"/><circle cx="226.21" cy="200.72" r="1.45"/><circle cx="226.59" cy="196.89" r="1.45"/><circle cx="226.97" cy="195.85" r="1.45"/><circle cx="228.11" cy="189.80" r="1.45"/><circle cx="228.48" cy="188.66" r="1.45"/><circle cx="230.00" cy="177.06" r="1.45"/><circle cx="230.38" cy="172.76" r="1.45"/><circle cx="231.14" cy="169.44" r="1.45"/><circle cx="231.90" cy="166.20" r="1.45"/><circle cx="232.28" cy="162.79" r="1.45"/><circle cx="232.65" cy="157.17" r="1.45"/><circle cx="233.03" cy="157.18" r="1.45"/><circle cx="233.41" cy="153.02" r="1.45"/><circle cx="233.79" cy="151.13" r="1.45"/><circle cx="234.17" cy="147.35" r="1.45"/><circle cx="234.93" cy="139.13" r="1.45"/><circle cx="235.31" cy="137.73" r="1.45"/><circle cx="235.69" cy="133.70" r="1.45"/><circle cx="236.07" cy="131.54" r="1.45"/><circle cx="236.45" cy="129.82" r="1.45"/><circle cx="236.82" cy="127.01" r="1.45"/><circle cx="237.20" cy="123.64" r="1.45"/><circle cx="237.58" cy="118.67" r="1.45"/><circle cx="237.96" cy="114.91" r="1.45"/><circle cx="238.34" cy="111.63" r="1.45"/><circle cx="238.72" cy="109.11" r="1.45"/><circle cx="239.10" cy="107.33" r="1.45"/><circle cx="239.48" cy="102.11" r="1.45"/><circle cx="239.86" cy="99.72" r="1.45"/><circle cx="240.24" cy="92.44" r="1.45"/><circle cx="240.62" cy="88.29" r="1.45"/><circle cx="240.99" cy="84.58" r="1.45"/><circle cx="241.37" cy="82.96" r="1.45"/><circle cx="241.75" cy="81.97" r="1.45"/><circle cx="242.13" cy="74.64" r="1.45"/><circle cx="242.51" cy="71.14" r="1.45"/><circle cx="242.89" cy="72.56" r="1.45"/><circle cx="243.27" cy="67.60" r="1.45"/><circle cx="243.65" cy="63.62" r="1.45"/><circle cx="244.03" cy="64.85" r="1.45"/><circle cx="244.41" cy="57.86" r="1.45"/><circle cx="244.78" cy="58.50" r="1.45"/><circle cx="245.16" cy="56.94" r="1.45"/><circle cx="245.54" cy="50.25" r="1.45"/><circle cx="245.92" cy="49.23" r="1.45"/><circle cx="246.30" cy="47.97" r="1.45"/><circle cx="246.68" cy="42.53" r="1.45"/><circle cx="247.06" cy="44.16" r="1.45"/><circle cx="247.44" cy="34.60" r="1.45"/><circle cx="247.82" cy="35.63" r="1.45"/><circle cx="248.20" cy="30.35" r="1.45"/><circle cx="248.58" cy="28.37" r="1.45"/><circle cx="248.95" cy="24.35" r="1.45"/><circle cx="249.33" cy="21.77" r="1.45"/><circle cx="249.71" cy="23.76" r="1.45"/><circle cx="250.09" cy="20.67" r="1.45"/><circle cx="250.47" cy="22.67" r="1.45"/><circle cx="250.85" cy="23.60" r="1.45"/><circle cx="251.23" cy="22.97" r="1.45"/><circle cx="251.61" cy="24.33" r="1.45"/><circle cx="251.99" cy="23.86" r="1.45"/><circle cx="252.37" cy="20.67" r="1.45"/><circle cx="252.75" cy="22.47" r="1.45"/><circle cx="253.12" cy="20.22" r="1.45"/><circle cx="253.50" cy="21.62" r="1.45"/><circle cx="253.88" cy="24.52" r="1.45"/><circle cx="254.26" cy="26.49" r="1.45"/><circle cx="254.64" cy="24.83" r="1.45"/><circle cx="255.02" cy="23.51" r="1.45"/><circle cx="255.40" cy="24.16" r="1.45"/><circle cx="255.78" cy="25.84" r="1.45"/><circle cx="256.16" cy="23.13" r="1.45"/><circle cx="256.54" cy="28.87" r="1.45"/><circle cx="256.92" cy="29.70" r="1.45"/><circle cx="257.29" cy="29.72" r="1.45"/><circle cx="257.67" cy="29.14" r="1.45"/><circle cx="258.05" cy="35.33" r="1.45"/><circle cx="258.43" cy="40.94" r="1.45"/><circle cx="258.81" cy="41.38" r="1.45"/><circle cx="259.19" cy="44.12" r="1.45"/><circle cx="259.57" cy="46.39" r="1.45"/><circle cx="259.95" cy="51.12" r="1.45"/><circle cx="260.33" cy="54.21" r="1.45"/><circle cx="260.71" cy="55.19" r="1.45"/><circle cx="261.09" cy="57.21" r="1.45"/><circle cx="261.46" cy="57.89" r="1.45"/><circle cx="261.84" cy="59.46" r="1.45"/><circle cx="262.22" cy="65.99" r="1.45"/><circle cx="262.60" cy="67.67" r="1.45"/><circle cx="262.98" cy="69.08" r="1.45"/><circle cx="263.36" cy="71.76" r="1.45"/><circle cx="263.74" cy="73.47" r="1.45"/><circle cx="264.12" cy="76.66" r="1.45"/><circle cx="264.50" cy="80.34" r="1.45"/><circle cx="264.88" cy="82.10" r="1.45"/><circle cx="265.26" cy="87.65" r="1.45"/><circle cx="265.63" cy="91.88" r="1.45"/><circle cx="266.01" cy="95.00" r="1.45"/><circle cx="266.39" cy="96.45" r="1.45"/><circle cx="266.77" cy="98.90" r="1.45"/><circle cx="267.15" cy="103.11" r="1.45"/><circle cx="267.53" cy="103.13" r="1.45"/><circle cx="267.91" cy="107.73" r="1.45"/><circle cx="268.29" cy="112.70" r="1.45"/><circle cx="268.67" cy="117.54" r="1.45"/><circle cx="269.05" cy="122.60" r="1.45"/><circle cx="269.42" cy="125.72" r="1.45"/><circle cx="269.80" cy="125.88" r="1.45"/><circle cx="270.18" cy="134.34" r="1.45"/><circle cx="270.56" cy="134.46" r="1.45"/><circle cx="270.94" cy="136.65" r="1.45"/><circle cx="271.32" cy="140.23" r="1.45"/><circle cx="271.70" cy="143.56" r="1.45"/><circle cx="272.08" cy="145.09" r="1.45"/><circle cx="272.46" cy="150.17" r="1.45"/><circle cx="272.84" cy="151.27" r="1.45"/><circle cx="273.22" cy="153.42" r="1.45"/><circle cx="273.59" cy="159.40" r="1.45"/><circle cx="273.97" cy="162.67" r="1.45"/><circle cx="274.35" cy="166.58" r="1.45"/><circle cx="274.73" cy="170.13" r="1.45"/><circle cx="275.11" cy="172.60" r="1.45"/><circle cx="275.49" cy="175.99" r="1.45"/><circle cx="275.87" cy="179.97" r="1.45"/><circle cx="276.25" cy="182.97" r="1.45"/><circle cx="276.63" cy="184.19" r="1.45"/><circle cx="277.01" cy="186.52" r="1.45"/><circle cx="277.39" cy="190.29" r="1.45"/><circle cx="277.76" cy="191.44" r="1.45"/><circle cx="278.14" cy="192.93" r="1.45"/><circle cx="278.52" cy="193.69" r="1.45"/><circle cx="278.90" cy="196.67" r="1.45"/><circle cx="279.28" cy="196.57" r="1.45"/><circle cx="279.66" cy="199.43" r="1.45"/><circle cx="280.04" cy="200.55" r="1.45"/><circle cx="280.42" cy="202.24" r="1.45"/><circle cx="280.80" cy="202.99" r="1.45"/><circle cx="281.18" cy="203.65" r="1.45"/><circle cx="281.56" cy="208.06" r="1.45"/><circle cx="281.93" cy="209.85" r="1.45"/><circle cx="282.31" cy="211.36" r="1.45"/><circle cx="282.69" cy="214.83" r="1.45"/><circle cx="283.07" cy="214.95" r="1.45"/><circle cx="283.45" cy="217.84" r="1.45"/><circle cx="283.83" cy="217.34" r="1.45"/><circle cx="284.21" cy="218.87" r="1.45"/><circle cx="284.59" cy="220.82" r="1.45"/><circle cx="284.97" cy="222.92" r="1.45"/><circle cx="285.35" cy="222.59" r="1.45"/><circle cx="285.73" cy="224.62" r="1.45"/><circle cx="286.10" cy="225.81" r="1.45"/><circle cx="286.48" cy="226.59" r="1.45"/><circle cx="286.86" cy="228.89" r="1.45"/><circle cx="287.24" cy="228.62" r="1.45"/><circle cx="287.62" cy="229.20" r="1.45"/><circle cx="288.00" cy="230.41" r="1.45"/><circle cx="288.38" cy="231.31" r="1.45"/><circle cx="288.76" cy="232.63" r="1.45"/><circle cx="289.14" cy="232.52" r="1.45"/><circle cx="289.52" cy="233.42" r="1.45"/><circle cx="289.90" cy="234.15" r="1.45"/><circle cx="290.27" cy="235.03" r="1.45"/><circle cx="290.65" cy="234.91" r="1.45"/><circle cx="291.03" cy="235.27" r="1.45"/><circle cx="291.41" cy="236.18" r="1.45"/><circle cx="291.79" cy="236.42" r="1.45"/><circle cx="292.17" cy="236.68" r="1.45"/><circle cx="292.55" cy="236.99" r="1.45"/><circle cx="292.93" cy="237.99" r="1.45"/><circle cx="293.31" cy="238.55" r="1.45"/><circle cx="293.69" cy="238.99" r="1.45"/><circle cx="294.06" cy="239.14" r="1.45"/><circle cx="294.44" cy="239.22" r="1.45"/><circle cx="294.82" cy="239.35" r="1.45"/><circle cx="295.20" cy="240.18" r="1.45"/><circle cx="295.58" cy="240.20" r="1.45"/><circle cx="295.96" cy="240.89" r="1.45"/><circle cx="296.34" cy="240.21" r="1.45"/><circle cx="296.72" cy="241.07" r="1.45"/><circle cx="297.10" cy="240.97" r="1.45"/><circle cx="297.48" cy="241.57" r="1.45"/><circle cx="297.86" cy="241.57" r="1.45"/><circle cx="298.23" cy="241.88" r="1.45"/><circle cx="298.61" cy="241.11" r="1.45"/><circle cx="298.99" cy="241.76" r="1.45"/><circle cx="299.37" cy="242.09" r="1.45"/><circle cx="299.75" cy="242.49" r="1.45"/><circle cx="300.13" cy="242.47" r="1.45"/><circle cx="300.51" cy="242.14" r="1.45"/><circle cx="300.89" cy="241.82" r="1.45"/><circle cx="301.27" cy="243.04" r="1.45"/><circle cx="301.65" cy="242.93" r="1.45"/><circle cx="302.03" cy="242.72" r="1.45"/><circle cx="302.40" cy="242.94" r="1.45"/><circle cx="302.78" cy="243.36" r="1.45"/><circle cx="303.16" cy="242.80" r="1.45"/><circle cx="303.54" cy="242.57" r="1.45"/><circle cx="303.92" cy="243.44" r="1.45"/><circle cx="304.30" cy="242.82" r="1.45"/><circle cx="304.68" cy="242.57" r="1.45"/><circle cx="305.06" cy="242.58" r="1.45"/><circle cx="305.44" cy="243.10" r="1.45"/><circle cx="305.82" cy="242.13" r="1.45"/><circle cx="306.20" cy="242.77" r="1.45"/><circle cx="306.57" cy="243.27" r="1.45"/><circle cx="306.95" cy="242.63" r="1.45"/><circle cx="307.33" cy="243.39" r="1.45"/><circle cx="307.71" cy="242.67" r="1.45"/><circle cx="308.09" cy="243.45" r="1.45"/><circle cx="308.47" cy="242.72" r="1.45"/><circle cx="308.85" cy="243.22" r="1.45"/><circle cx="309.23" cy="242.61" r="1.45"/><circle cx="309.61" cy="242.75" r="1.45"/><circle cx="309.99" cy="242.85" r="1.45"/><circle cx="310.37" cy="242.99" r="1.45"/><circle cx="310.74" cy="242.62" r="1.45"/><circle cx="311.12" cy="243.65" r="1.45"/><circle cx="311.50" cy="242.85" r="1.45"/><circle cx="311.88" cy="242.85" r="1.45"/><circle cx="312.26" cy="242.79" r="1.45"/><circle cx="312.64" cy="242.70" r="1.45"/><circle cx="313.02" cy="241.67" r="1.45"/><circle cx="313.40" cy="242.95" r="1.45"/><circle cx="313.78" cy="242.71" r="1.45"/><circle cx="314.16" cy="242.94" r="1.45"/><circle cx="314.54" cy="242.44" r="1.45"/><circle cx="314.91" cy="243.73" r="1.45"/><circle cx="315.29" cy="242.41" r="1.45"/><circle cx="315.67" cy="243.26" r="1.45"/><circle cx="316.05" cy="243.83" r="1.45"/><circle cx="316.43" cy="243.42" r="1.45"/><circle cx="316.81" cy="243.10" r="1.45"/><circle cx="317.19" cy="242.98" r="1.45"/><circle cx="317.57" cy="243.07" r="1.45"/><circle cx="317.95" cy="242.77" r="1.45"/><circle cx="318.33" cy="243.08" r="1.45"/><circle cx="318.70" cy="243.10" r="1.45"/><circle cx="319.08" cy="243.85" r="1.45"/><circle cx="319.46" cy="242.92" r="1.45"/><circle cx="319.84" cy="242.74" r="1.45"/><circle cx="320.22" cy="243.25" r="1.45"/><circle cx="320.60" cy="243.78" r="1.45"/><circle cx="320.98" cy="243.60" r="1.45"/><circle cx="321.36" cy="242.54" r="1.45"/><circle cx="321.74" cy="243.37" r="1.45"/><circle cx="322.12" cy="243.40" r="1.45"/><circle cx="322.50" cy="243.48" r="1.45"/><circle cx="322.87" cy="242.97" r="1.45"/><circle cx="323.25" cy="243.44" r="1.45"/><circle cx="323.63" cy="243.56" r="1.45"/><circle cx="324.01" cy="243.81" r="1.45"/><circle cx="324.39" cy="243.34" r="1.45"/><circle cx="324.77" cy="242.98" r="1.45"/><circle cx="325.15" cy="243.41" r="1.45"/><circle cx="325.53" cy="243.08" r="1.45"/><circle cx="325.91" cy="243.36" r="1.45"/><circle cx="326.29" cy="243.40" r="1.45"/><circle cx="326.67" cy="243.42" r="1.45"/><circle cx="327.04" cy="243.51" r="1.45"/><circle cx="327.42" cy="243.20" r="1.45"/><circle cx="327.80" cy="243.42" r="1.45"/><circle cx="328.18" cy="243.83" r="1.45"/><circle cx="328.56" cy="243.62" r="1.45"/><circle cx="328.94" cy="243.73" r="1.45"/><circle cx="329.32" cy="243.58" r="1.45"/><circle cx="329.70" cy="243.73" r="1.45"/><circle cx="330.08" cy="243.69" r="1.45"/><circle cx="330.46" cy="244.38" r="1.45"/><circle cx="330.84" cy="243.79" r="1.45"/><circle cx="331.21" cy="243.52" r="1.45"/><circle cx="331.59" cy="244.47" r="1.45"/><circle cx="331.97" cy="243.51" r="1.45"/><circle cx="332.35" cy="244.00" r="1.45"/><circle cx="332.73" cy="244.22" r="1.45"/><circle cx="333.11" cy="244.80" r="1.45"/><circle cx="333.49" cy="243.88" r="1.45"/><circle cx="333.87" cy="244.61" r="1.45"/><circle cx="334.25" cy="244.51" r="1.45"/><circle cx="334.63" cy="244.20" r="1.45"/><circle cx="335.01" cy="244.77" r="1.45"/><circle cx="335.38" cy="244.81" r="1.45"/><circle cx="335.76" cy="244.91" r="1.45"/><circle cx="336.14" cy="244.61" r="1.45"/><circle cx="336.52" cy="244.43" r="1.45"/><circle cx="336.90" cy="244.54" r="1.45"/><circle cx="337.28" cy="244.59" r="1.45"/><circle cx="337.66" cy="244.88" r="1.45"/><circle cx="338.04" cy="244.78" r="1.45"/><circle cx="338.42" cy="245.09" r="1.45"/><circle cx="338.80" cy="244.28" r="1.45"/><circle cx="339.18" cy="244.90" r="1.45"/><circle cx="339.55" cy="245.64" r="1.45"/><circle cx="339.93" cy="245.40" r="1.45"/><circle cx="340.31" cy="244.60" r="1.45"/><circle cx="340.69" cy="245.58" r="1.45"/><circle cx="341.07" cy="245.34" r="1.45"/><circle cx="341.45" cy="245.12" r="1.45"/><circle cx="341.83" cy="245.63" r="1.45"/><circle cx="342.21" cy="245.00" r="1.45"/><circle cx="342.59" cy="244.85" r="1.45"/><circle cx="342.97" cy="245.67" r="1.45"/><circle cx="343.34" cy="245.11" r="1.45"/><circle cx="343.72" cy="245.77" r="1.45"/><circle cx="344.10" cy="245.84" r="1.45"/><circle cx="344.48" cy="245.50" r="1.45"/><circle cx="344.86" cy="245.54" r="1.45"/><circle cx="345.24" cy="245.83" r="1.45"/><circle cx="345.62" cy="245.43" r="1.45"/><circle cx="346.00" cy="246.17" r="1.45"/><circle cx="346.38" cy="246.01" r="1.45"/><circle cx="346.76" cy="246.11" r="1.45"/><circle cx="347.14" cy="245.58" r="1.45"/><circle cx="347.51" cy="245.60" r="1.45"/><circle cx="347.89" cy="245.67" r="1.45"/><circle cx="348.27" cy="246.29" r="1.45"/><circle cx="348.65" cy="245.88" r="1.45"/><circle cx="349.03" cy="245.81" r="1.45"/><circle cx="349.41" cy="246.45" r="1.45"/><circle cx="349.79" cy="246.23" r="1.45"/><circle cx="350.17" cy="245.82" r="1.45"/><circle cx="350.55" cy="245.82" r="1.45"/><circle cx="350.93" cy="245.97" r="1.45"/><circle cx="351.31" cy="245.90" r="1.45"/><circle cx="351.68" cy="245.98" r="1.45"/><circle cx="352.06" cy="246.05" r="1.45"/><circle cx="352.44" cy="246.15" r="1.45"/><circle cx="352.82" cy="246.39" r="1.45"/><circle cx="353.20" cy="246.22" r="1.45"/><circle cx="353.58" cy="246.28" r="1.45"/><circle cx="353.96" cy="245.50" r="1.45"/><circle cx="354.34" cy="246.12" r="1.45"/><circle cx="354.72" cy="246.21" r="1.45"/><circle cx="355.10" cy="246.29" r="1.45"/><circle cx="355.48" cy="246.27" r="1.45"/><circle cx="355.85" cy="246.33" r="1.45"/><circle cx="356.23" cy="246.11" r="1.45"/><circle cx="356.61" cy="246.29" r="1.45"/><circle cx="356.99" cy="246.06" r="1.45"/><circle cx="357.37" cy="246.51" r="1.45"/><circle cx="357.75" cy="246.22" r="1.45"/><circle cx="358.13" cy="246.08" r="1.45"/><circle cx="358.51" cy="246.68" r="1.45"/><circle cx="358.89" cy="246.31" r="1.45"/><circle cx="359.27" cy="246.30" r="1.45"/><circle cx="359.65" cy="246.48" r="1.45"/><circle cx="360.02" cy="246.54" r="1.45"/><circle cx="360.40" cy="246.95" r="1.45"/><circle cx="360.78" cy="246.09" r="1.45"/><circle cx="361.16" cy="246.70" r="1.45"/><circle cx="361.54" cy="246.80" r="1.45"/><circle cx="361.92" cy="246.27" r="1.45"/><circle cx="362.30" cy="247.00" r="1.45"/><circle cx="362.68" cy="246.20" r="1.45"/><circle cx="363.06" cy="246.37" r="1.45"/><circle cx="363.44" cy="246.33" r="1.45"/><circle cx="363.82" cy="246.56" r="1.45"/><circle cx="364.19" cy="246.87" r="1.45"/><circle cx="364.57" cy="247.08" r="1.45"/><circle cx="364.95" cy="246.13" r="1.45"/><circle cx="365.33" cy="246.69" r="1.45"/><circle cx="365.71" cy="246.72" r="1.45"/><circle cx="366.09" cy="246.13" r="1.45"/><circle cx="366.47" cy="246.77" r="1.45"/><circle cx="366.85" cy="246.67" r="1.45"/><circle cx="367.23" cy="246.68" r="1.45"/><circle cx="367.61" cy="246.66" r="1.45"/><circle cx="367.98" cy="246.93" r="1.45"/><circle cx="368.36" cy="246.80" r="1.45"/><circle cx="368.74" cy="246.29" r="1.45"/><circle cx="369.12" cy="246.45" r="1.45"/><circle cx="369.50" cy="247.52" r="1.45"/><circle cx="369.88" cy="247.24" r="1.45"/><circle cx="370.26" cy="246.60" r="1.45"/><circle cx="370.64" cy="246.74" r="1.45"/><circle cx="371.02" cy="246.82" r="1.45"/><circle cx="371.40" cy="246.43" r="1.45"/><circle cx="371.78" cy="247.24" r="1.45"/><circle cx="372.15" cy="246.41" r="1.45"/><circle cx="372.53" cy="246.72" r="1.45"/><circle cx="372.91" cy="246.62" r="1.45"/><circle cx="373.29" cy="246.71" r="1.45"/><circle cx="373.67" cy="246.56" r="1.45"/><circle cx="374.05" cy="246.87" r="1.45"/><circle cx="374.43" cy="246.97" r="1.45"/><circle cx="374.81" cy="246.61" r="1.45"/><circle cx="375.19" cy="246.79" r="1.45"/><circle cx="375.57" cy="247.20" r="1.45"/><circle cx="375.95" cy="246.49" r="1.45"/><circle cx="376.32" cy="246.54" r="1.45"/><circle cx="376.70" cy="246.49" r="1.45"/><circle cx="377.08" cy="246.88" r="1.45"/><circle cx="377.46" cy="246.81" r="1.45"/><circle cx="377.84" cy="247.03" r="1.45"/><circle cx="378.22" cy="247.21" r="1.45"/><circle cx="378.60" cy="246.93" r="1.45"/><circle cx="378.98" cy="246.91" r="1.45"/><circle cx="379.36" cy="247.16" r="1.45"/><circle cx="379.74" cy="246.49" r="1.45"/><circle cx="380.12" cy="247.45" r="1.45"/><circle cx="380.49" cy="247.24" r="1.45"/><circle cx="380.87" cy="247.22" r="1.45"/><circle cx="381.25" cy="246.69" r="1.45"/><circle cx="381.63" cy="247.13" r="1.45"/><circle cx="382.01" cy="247.17" r="1.45"/><circle cx="382.39" cy="247.33" r="1.45"/><circle cx="382.77" cy="247.32" r="1.45"/><circle cx="383.15" cy="247.48" r="1.45"/><circle cx="383.53" cy="246.86" r="1.45"/><circle cx="383.91" cy="246.99" r="1.45"/><circle cx="384.29" cy="246.90" r="1.45"/><circle cx="384.66" cy="247.37" r="1.45"/><circle cx="385.04" cy="246.53" r="1.45"/><circle cx="385.42" cy="247.49" r="1.45"/><circle cx="385.80" cy="247.79" r="1.45"/><circle cx="386.18" cy="247.33" r="1.45"/><circle cx="386.56" cy="247.24" r="1.45"/><circle cx="386.94" cy="247.09" r="1.45"/><circle cx="387.32" cy="247.58" r="1.45"/><circle cx="387.70" cy="247.17" r="1.45"/><circle cx="388.08" cy="246.88" r="1.45"/><circle cx="388.46" cy="247.59" r="1.45"/><circle cx="388.83" cy="247.57" r="1.45"/><circle cx="389.21" cy="247.84" r="1.45"/><circle cx="389.59" cy="247.35" r="1.45"/><circle cx="389.97" cy="247.20" r="1.45"/><circle cx="390.35" cy="247.24" r="1.45"/><circle cx="390.73" cy="247.24" r="1.45"/><circle cx="391.11" cy="247.10" r="1.45"/><circle cx="391.49" cy="247.46" r="1.45"/><circle cx="391.87" cy="247.26" r="1.45"/><circle cx="392.25" cy="247.77" r="1.45"/><circle cx="392.62" cy="247.75" r="1.45"/><circle cx="393.00" cy="247.49" r="1.45"/><circle cx="393.38" cy="247.79" r="1.45"/><circle cx="393.76" cy="247.44" r="1.45"/><circle cx="394.14" cy="247.25" r="1.45"/><circle cx="394.52" cy="247.51" r="1.45"/><circle cx="394.90" cy="247.82" r="1.45"/><circle cx="395.28" cy="247.84" r="1.45"/><circle cx="395.66" cy="247.31" r="1.45"/><circle cx="396.04" cy="247.88" r="1.45"/><circle cx="396.42" cy="247.67" r="1.45"/><circle cx="396.79" cy="247.77" r="1.45"/><circle cx="397.17" cy="247.70" r="1.45"/><circle cx="397.55" cy="247.45" r="1.45"/><circle cx="397.93" cy="247.88" r="1.45"/><circle cx="398.31" cy="248.11" r="1.45"/><circle cx="398.69" cy="247.39" r="1.45"/><circle cx="399.07" cy="247.72" r="1.45"/><circle cx="399.45" cy="247.60" r="1.45"/><circle cx="399.83" cy="247.80" r="1.45"/><circle cx="400.21" cy="247.61" r="1.45"/><circle cx="400.59" cy="247.49" r="1.45"/><circle cx="400.96" cy="247.48" r="1.45"/><circle cx="401.34" cy="247.90" r="1.45"/><circle cx="401.72" cy="247.93" r="1.45"/><circle cx="402.10" cy="247.75" r="1.45"/><circle cx="402.48" cy="247.81" r="1.45"/><circle cx="402.86" cy="247.73" r="1.45"/><circle cx="403.24" cy="248.06" r="1.45"/><circle cx="403.62" cy="248.48" r="1.45"/><circle cx="404.00" cy="247.78" r="1.45"/><circle cx="404.38" cy="247.70" r="1.45"/><circle cx="404.76" cy="247.75" r="1.45"/><circle cx="405.13" cy="247.50" r="1.45"/><circle cx="405.51" cy="247.71" r="1.45"/><circle cx="405.89" cy="248.03" r="1.45"/><circle cx="406.27" cy="247.69" r="1.45"/><circle cx="406.65" cy="247.97" r="1.45"/><circle cx="407.03" cy="247.64" r="1.45"/><circle cx="407.41" cy="247.90" r="1.45"/><circle cx="407.79" cy="247.85" r="1.45"/><circle cx="408.17" cy="247.92" r="1.45"/><circle cx="408.55" cy="247.97" r="1.45"/><circle cx="408.93" cy="248.36" r="1.45"/><circle cx="409.30" cy="247.98" r="1.45"/><circle cx="409.68" cy="248.57" r="1.45"/></g>
<path d="M143.19,242.82L143.57,244.28M143.57,244.28L143.95,243.24M148.88,242.36L149.26,241.31M152.67,240.98L153.05,242.48M155.32,241.57L155.70,240.25M162.53,240.95L162.90,242.02M165.18,241.66L165.56,240.65M165.94,240.50L166.32,241.51M167.83,240.89L168.21,242.13M178.83,243.79L179.20,242.62M187.17,244.69L187.54,243.65M189.06,243.88L189.44,245.00M189.44,245.00L189.82,243.90M206.50,240.59L206.88,239.44M215.60,231.70L215.98,230.70M216.73,229.70L217.11,228.41M217.87,228.75L218.25,227.04M219.39,224.50L219.77,222.35M219.77,222.35L220.14,220.80M220.52,221.08L220.90,218.95M222.04,215.90L222.42,214.56M223.18,212.88L223.56,210.67M223.56,210.67L223.94,208.45M223.94,208.45L224.31,207.13M224.31,207.13L224.69,205.41M225.07,205.59L225.45,202.03M226.21,200.72L226.59,196.89M226.59,196.89L226.97,195.85M228.11,189.80L228.48,188.66M230.00,177.06L230.38,172.76M231.90,166.20L232.28,162.79M232.28,162.79L232.65,157.17M233.03,157.18L233.41,153.02M233.41,153.02L233.79,151.13M233.79,151.13L234.17,147.35M234.93,139.13L235.31,137.73M235.31,137.73L235.69,133.70" stroke="#000" stroke-width="2.5" stroke-linecap="round" fill="none"/>
<path d="M235.96,131.37 L236.23,129.67 L236.50,128.53 L236.77,126.30 L237.04,123.91 L237.31,121.51 L237.58,119.10 L237.85,116.68 L238.12,114.25 L238.39,111.81 L238.67,109.36 L238.94,106.92 L239.21,104.47 L239.48,102.01 L239.75,99.54 L240.02,96.49 L240.29,93.01 L240.56,89.70 L240.83,87.09 L241.10,84.76 L241.37,82.44 L241.64,80.15 L241.91,77.89 L242.19,75.65 L242.46,73.45 L242.73,71.41 L243.00,69.55 L243.27,67.81 L243.54,66.15 L243.81,64.50 L244.08,62.82 L244.35,61.04 L244.62,59.12 L244.89,57.18 L245.16,55.24 L245.43,53.32 L245.71,51.42 L245.98,49.54 L246.25,47.71 L246.52,45.93 L246.79,44.20 L247.06,42.54 L247.33,40.95 L247.60,39.45 L247.87,38.00 L248.14,36.61 L248.41,35.28 L248.68,34.01 L248.95,32.81 L249.23,31.66 L249.50,30.59 L249.77,29.58 L250.04,28.64 L250.31,27.78 L250.58,26.99 L250.85,26.28 L251.12,25.64 L251.39,25.08 L251.66,24.61 L251.93,24.22 L252.20,23.91 L252.47,23.69 L252.75,23.55 L253.02,23.50 L253.29,23.58 L253.56,23.82 L253.83,24.20 L254.10,24.72 L254.37,25.37 L254.64,26.12 L254.91,26.98 L255.18,27.93 L255.45,28.96 L255.72,30.06 L255.99,31.22 L256.27,32.42 L256.54,33.66 L256.81,34.92 L257.08,36.19 L257.35,37.46 L257.62,38.72 L257.89,39.96 L258.16,41.20 L258.43,42.50 L258.70,43.86 L258.97,45.26 L259.24,46.72 L259.51,48.23 L259.79,49.79 L260.06,51.39 L260.33,53.04 L260.60,54.74 L260.87,56.47 L261.14,58.25 L261.41,60.07 L261.68,61.80 L261.95,63.36 L262.22,64.84 L262.49,66.28 L262.76,67.74 L263.03,69.30 L263.31,71.01 L263.58,72.93 L263.85,75.10 L264.12,77.40 L264.39,79.77 L264.66,82.17 L264.93,84.58 L265.20,86.95 L265.47,89.18 L265.74,91.08 L266.01,92.75 L266.28,94.33 L266.55,95.97 L266.83,97.80 L267.10,99.97 L267.37,102.46 L267.64,105.15 L267.91,107.99 L268.18,110.93 L268.45,113.94 L268.72,116.95 L268.99,119.94 L269.26,122.84 L269.53,125.63 L269.80,128.24 L270.07,130.64 L270.35,132.90 L270.62,135.07 L270.89,137.15 L271.16,139.19 L271.43,141.19 L271.70,143.18 L271.97,145.19 L272.24,147.22 L272.51,149.31 L272.78,151.47 L273.05,153.68 L273.32,155.95 L273.59,158.24 L273.87,160.61 L274.14,163.80 L274.41,167.44 L274.68,170.64 L274.95,172.79 L275.22,174.74 L275.49,176.67 L275.76,178.56 L276.03,180.43 L276.30,182.26 L276.57,184.06 L276.84,185.84 L277.11,187.58 L277.39,189.29 L277.66,190.92 L277.93,192.29 L278.20,193.43 L278.47,194.42 L278.74,195.31 L279.01,196.16 L279.28,197.04 L279.55,198.01 L279.82,199.14 L280.09,200.48 L280.36,201.89 L280.63,203.33 L280.91,204.78 L281.18,206.24 L281.45,207.68 L281.72,209.10 L281.99,210.49 L282.26,211.83 L282.53,213.12 L282.80,214.34 L283.07,215.49 L283.34,216.56 L283.61,217.61 L283.88,218.63 L284.15,219.62 L284.43,220.58 L284.70,221.51 L284.97,222.41 L285.24,223.28 L285.51,224.12 L285.78,224.94 L286.05,225.72 L286.32,226.48 L286.59,227.21 L286.86,227.92 L287.13,228.59 L287.40,229.25 L287.67,229.87 L287.95,230.47 L288.22,231.05 L288.49,231.60 L288.76,232.14 L289.03,232.65 L289.30,233.14 L289.57,233.62 L289.84,234.07 L290.11,234.51 L290.38,234.92 L290.65,235.32 L290.92,235.71 L291.19,236.07 L291.47,236.43 L291.74,236.76 L292.01,237.09 L292.28,237.40 L292.55,237.69 L292.82,237.98 L293.09,238.25 L293.36,238.51 L293.63,238.76 L293.90,239.00 L294.17,239.23 L294.44,239.45 L294.71,239.66 L294.99,239.86 L295.26,240.05 L295.53,240.23 L295.80,240.40 L296.07,240.56 L296.34,240.71 L296.61,240.86 L296.88,241.00 L297.15,241.14 L297.42,241.26 L297.69,241.39 L297.96,241.50 L298.23,241.61 L298.51,241.72 L298.78,241.82 L299.05,241.91 L299.32,242.01 L299.59,242.09 L299.86,242.17 L300.13,242.25 L300.40,242.32 L300.67,242.39 L300.94,242.45 L301.21,242.51 L301.48,242.56 L301.75,242.61 L302.03,242.66 L302.30,242.70 L302.57,242.73 L302.84,242.77 L303.11,242.80 L303.38,242.82 L303.65,242.85 L303.92,242.87 L304.19,242.89 L304.46,242.90 L304.73,242.92 L305.00,242.93 L305.27,242.94 L305.55,242.95 L305.82,242.96 L306.09,242.97 L306.36,242.97 L306.63,242.98 L306.90,242.98 L307.17,242.99 L307.44,242.99 L307.71,243.00 L307.98,243.00 L308.25,243.00 L308.52,243.01 L308.79,243.01 L309.07,243.01 L309.34,243.01 L309.61,243.01 L309.88,243.01 L310.15,243.01 L310.42,243.01 L310.69,243.01 L310.96,243.00 L311.23,243.00 L311.50,243.00 L311.77,243.00 L312.04,243.00 L312.31,242.99 L312.59,242.99 L312.86,242.99 L313.13,242.99 L313.40,242.99 L313.67,242.99 L313.94,243.00 L314.21,243.00 L314.48,243.00" fill="none" stroke="#ff0f0f" stroke-width="1.65"/>
</g>
<path d="M84.98,252.80 V249.30 M84.98,7.80 V11.30 M139.13,252.80 V249.30 M139.13,7.80 V11.30 M193.28,252.80 V249.30 M193.28,7.80 V11.30 M247.44,252.80 V249.30 M247.44,7.80 V11.30 M301.59,252.80 V249.30 M301.59,7.80 V11.30 M355.75,252.80 V249.30 M355.75,7.80 V11.30 M409.90,252.80 V249.30 M409.90,7.80 V11.30 M57.90,252.80 H61.40 M409.90,252.80 H406.40 M57.90,211.97 H61.40 M409.90,211.97 H406.40 M57.90,171.13 H61.40 M409.90,171.13 H406.40 M57.90,130.30 H61.40 M409.90,130.30 H406.40 M57.90,89.47 H61.40 M409.90,89.47 H406.40 M57.90,48.63 H61.40 M409.90,48.63 H406.40 M57.90,7.80 H61.40 M409.90,7.80 H406.40" stroke="#000" stroke-width="1.3" fill="none"/>
<rect x="57.90" y="7.80" width="352.00" height="245.00" fill="none" stroke="#000" stroke-width="1.7" stroke-linejoin="round"/>
<g fill="#000" stroke="#000" stroke-width="0.18"><text x="84.98" y="268.80" text-anchor="middle">200</text>
<text x="139.13" y="268.80" text-anchor="middle">300</text>
<text x="193.28" y="268.80" text-anchor="middle">400</text>
<text x="247.44" y="268.80" text-anchor="middle">500</text>
<text x="301.59" y="268.80" text-anchor="middle">600</text>
<text x="355.75" y="268.80" text-anchor="middle">700</text>
<text x="409.90" y="268.80" text-anchor="middle">800</text>
<text x="53.80" y="257.20" text-anchor="end">0</text>
<text x="53.80" y="216.37" text-anchor="end">2000</text>
<text x="53.80" y="175.53" text-anchor="end">4000</text>
<text x="53.80" y="134.70" text-anchor="end">6000</text>
<text x="53.80" y="93.87" text-anchor="end">8000</text>
<text x="53.80" y="53.03" text-anchor="end">10000</text>
<text x="53.80" y="12.20" text-anchor="end">12000</text>
<text x="231.70" y="284.60" text-anchor="middle">energy</text>
<text transform="translate(11.1,135) rotate(-90)" text-anchor="middle">number of counts</text></g>
<path d="M72.10,22.40 H107.00" stroke="#8a8a8a" stroke-width="1.1" stroke-dasharray="0.1 5.7" stroke-linecap="round"/>
<path d="M71.80,35.60 H109.60" stroke="#1f9a73" stroke-width="1.7" stroke-dasharray="7.6 7.4"/>
<path d="M72.00,48.40 H110.60" stroke="#000" stroke-width="1.3" stroke-dasharray="0.01 5.85 6.6 5.84" stroke-linecap="round"/>
<circle cx="90.7" cy="61.00" r="1.3" fill="#000"/>
<path d="M71.80,74.30 H109.60" stroke="#ff0f0f" stroke-width="1.4"/>
<text x="114.1" y="26.20" stroke="#000" stroke-width="0.18">8 dies</text>
<text x="114.1" y="39.40" stroke="#000" stroke-width="0.18">8 dies (corrected)</text>
<text x="114.1" y="52.20" stroke="#000" stroke-width="0.18">9 dies</text>
<text x="114.1" y="64.80" stroke="#000" stroke-width="0.18">8 &amp; 9 dies</text>
<text x="114.1" y="78.10" stroke="#000" stroke-width="0.18">fit</text>
</svg>
</body></html>
